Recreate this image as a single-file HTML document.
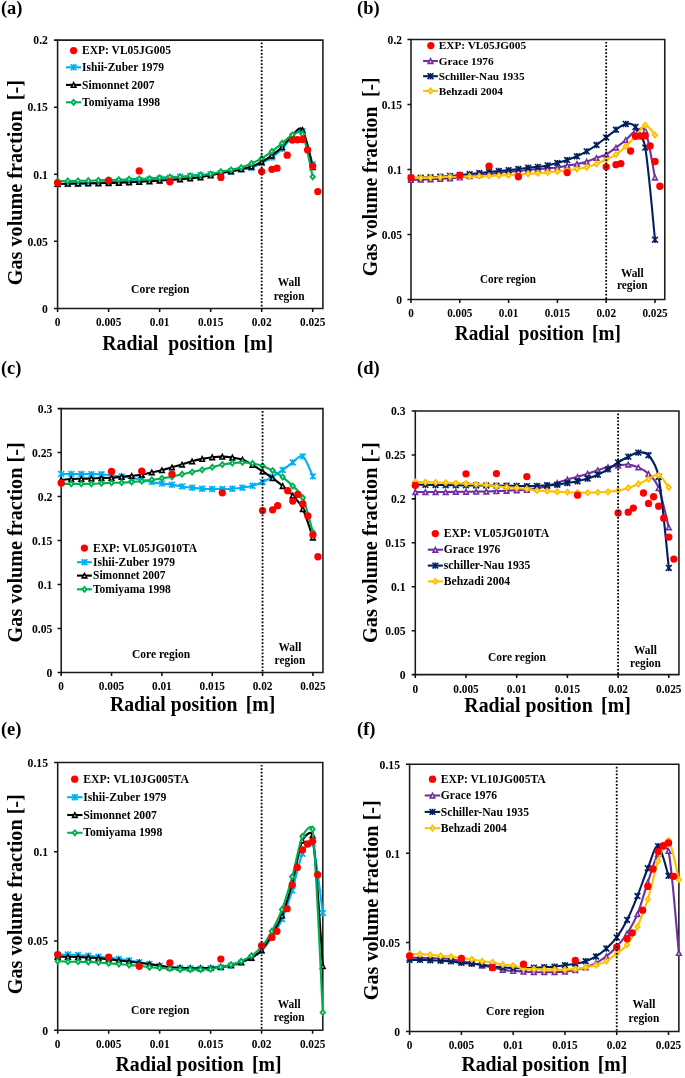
<!DOCTYPE html><html><head><meta charset="utf-8"><style>html,body{margin:0;padding:0;background:#fff;}svg{display:block;will-change:transform}text{font-family:'Liberation Serif',serif;font-weight:bold;white-space:pre}</style></head><body>
<svg width="685" height="1078" viewBox="0 0 685 1078">
<rect width="685" height="1078" fill="#fff"/>
<g><path d="M57.60,40.10H322.90V308.40H57.60Z" fill="none" stroke="#1a1a1a" stroke-width="1.55"/>
<path d="M54.00,308.40H57.60M54.00,241.32H57.60M54.00,174.25H57.60M54.00,107.18H57.60M54.00,40.10H57.60M57.60,308.40V311.90M108.62,308.40V311.90M159.64,308.40V311.90M210.66,308.40V311.90M261.68,308.40V311.90M312.70,308.40V311.90" stroke="#111" stroke-width="1.55" fill="none"/>
<path d="M57.60,184.31 C59.30,184.24 64.40,184.04 67.80,183.91 C71.21,183.77 74.61,183.64 78.01,183.51 C81.41,183.37 84.81,183.26 88.21,183.10 C91.61,182.95 95.01,182.75 98.42,182.57 C101.82,182.39 105.22,182.23 108.62,182.03 C112.02,181.83 115.42,181.58 118.82,181.36 C122.23,181.14 125.63,180.91 129.03,180.69 C132.43,180.47 135.83,180.24 139.23,180.02 C142.63,179.79 146.03,179.59 149.44,179.35 C152.84,179.10 156.24,178.81 159.64,178.54 C163.04,178.27 166.44,178.03 169.84,177.74 C173.25,177.45 176.65,177.09 180.05,176.80 C183.45,176.51 186.85,176.26 190.25,175.99 C193.65,175.73 197.05,175.48 200.46,175.19 C203.86,174.90 207.26,174.59 210.66,174.25 C214.06,173.91 217.46,173.62 220.86,173.18 C224.27,172.73 227.67,172.17 231.07,171.57 C234.47,170.96 237.87,170.16 241.27,169.55 C244.67,168.95 248.07,169.04 251.48,167.94 C254.88,166.85 258.28,164.73 261.68,162.98 C265.08,161.24 268.48,159.85 271.88,157.48 C275.29,155.11 278.69,152.23 282.09,148.76 C285.49,145.30 288.89,139.59 292.29,136.69 C295.69,133.78 299.09,126.74 302.50,131.32 C305.90,135.91 311.00,158.71 312.70,164.19" fill="none" stroke="#00B0F0" stroke-width="2.1" stroke-linejoin="round"/>
<path d="M54.70,181.41L60.50,187.21M54.70,187.21L60.50,181.41M57.60,181.11L57.60,187.51" stroke="#00B0F0" stroke-width="1.6" fill="none"/>
<path d="M64.90,181.01L70.70,186.81M64.90,186.81L70.70,181.01M67.80,180.71L67.80,187.11" stroke="#00B0F0" stroke-width="1.6" fill="none"/>
<path d="M75.11,180.61L80.91,186.41M75.11,186.41L80.91,180.61M78.01,180.31L78.01,186.71" stroke="#00B0F0" stroke-width="1.6" fill="none"/>
<path d="M85.31,180.20L91.11,186.00M85.31,186.00L91.11,180.20M88.21,179.90L88.21,186.30" stroke="#00B0F0" stroke-width="1.6" fill="none"/>
<path d="M95.52,179.67L101.32,185.47M95.52,185.47L101.32,179.67M98.42,179.37L98.42,185.77" stroke="#00B0F0" stroke-width="1.6" fill="none"/>
<path d="M105.72,179.13L111.52,184.93M105.72,184.93L111.52,179.13M108.62,178.83L108.62,185.23" stroke="#00B0F0" stroke-width="1.6" fill="none"/>
<path d="M115.92,178.46L121.72,184.26M115.92,184.26L121.72,178.46M118.82,178.16L118.82,184.56" stroke="#00B0F0" stroke-width="1.6" fill="none"/>
<path d="M126.13,177.79L131.93,183.59M126.13,183.59L131.93,177.79M129.03,177.49L129.03,183.89" stroke="#00B0F0" stroke-width="1.6" fill="none"/>
<path d="M136.33,177.12L142.13,182.92M136.33,182.92L142.13,177.12M139.23,176.82L139.23,183.22" stroke="#00B0F0" stroke-width="1.6" fill="none"/>
<path d="M146.54,176.45L152.34,182.25M146.54,182.25L152.34,176.45M149.44,176.15L149.44,182.55" stroke="#00B0F0" stroke-width="1.6" fill="none"/>
<path d="M156.74,175.64L162.54,181.44M156.74,181.44L162.54,175.64M159.64,175.34L159.64,181.74" stroke="#00B0F0" stroke-width="1.6" fill="none"/>
<path d="M166.94,174.84L172.74,180.64M166.94,180.64L172.74,174.84M169.84,174.54L169.84,180.94" stroke="#00B0F0" stroke-width="1.6" fill="none"/>
<path d="M177.15,173.90L182.95,179.70M177.15,179.70L182.95,173.90M180.05,173.60L180.05,180.00" stroke="#00B0F0" stroke-width="1.6" fill="none"/>
<path d="M187.35,173.09L193.15,178.89M187.35,178.89L193.15,173.09M190.25,172.79L190.25,179.19" stroke="#00B0F0" stroke-width="1.6" fill="none"/>
<path d="M197.56,172.29L203.36,178.09M197.56,178.09L203.36,172.29M200.46,171.99L200.46,178.39" stroke="#00B0F0" stroke-width="1.6" fill="none"/>
<path d="M207.76,171.35L213.56,177.15M207.76,177.15L213.56,171.35M210.66,171.05L210.66,177.45" stroke="#00B0F0" stroke-width="1.6" fill="none"/>
<path d="M217.96,170.28L223.76,176.08M217.96,176.08L223.76,170.28M220.86,169.98L220.86,176.38" stroke="#00B0F0" stroke-width="1.6" fill="none"/>
<path d="M228.17,168.67L233.97,174.47M228.17,174.47L233.97,168.67M231.07,168.37L231.07,174.77" stroke="#00B0F0" stroke-width="1.6" fill="none"/>
<path d="M238.37,166.65L244.17,172.45M238.37,172.45L244.17,166.65M241.27,166.35L241.27,172.75" stroke="#00B0F0" stroke-width="1.6" fill="none"/>
<path d="M248.58,165.04L254.38,170.84M248.58,170.84L254.38,165.04M251.48,164.74L251.48,171.14" stroke="#00B0F0" stroke-width="1.6" fill="none"/>
<path d="M258.78,160.08L264.58,165.88M258.78,165.88L264.58,160.08M261.68,159.78L261.68,166.18" stroke="#00B0F0" stroke-width="1.6" fill="none"/>
<path d="M268.98,154.58L274.78,160.38M268.98,160.38L274.78,154.58M271.88,154.28L271.88,160.68" stroke="#00B0F0" stroke-width="1.6" fill="none"/>
<path d="M279.19,145.86L284.99,151.66M279.19,151.66L284.99,145.86M282.09,145.56L282.09,151.96" stroke="#00B0F0" stroke-width="1.6" fill="none"/>
<path d="M289.39,133.79L295.19,139.59M289.39,139.59L295.19,133.79M292.29,133.49L292.29,139.89" stroke="#00B0F0" stroke-width="1.6" fill="none"/>
<path d="M299.60,128.42L305.40,134.22M299.60,134.22L305.40,128.42M302.50,128.12L302.50,134.52" stroke="#00B0F0" stroke-width="1.6" fill="none"/>
<path d="M309.80,161.29L315.60,167.09M309.80,167.09L315.60,161.29M312.70,160.99L312.70,167.39" stroke="#00B0F0" stroke-width="1.6" fill="none"/>
<path d="M57.60,183.91 C59.30,183.86 64.40,183.71 67.80,183.64 C71.21,183.57 74.61,183.55 78.01,183.51 C81.41,183.46 84.81,183.42 88.21,183.37 C91.61,183.33 95.01,183.31 98.42,183.24 C101.82,183.17 105.22,183.06 108.62,182.97 C112.02,182.88 115.42,182.81 118.82,182.70 C122.23,182.59 125.63,182.46 129.03,182.30 C132.43,182.14 135.83,181.94 139.23,181.76 C142.63,181.58 146.03,181.43 149.44,181.23 C152.84,181.02 156.24,180.78 159.64,180.56 C163.04,180.33 166.44,180.11 169.84,179.88 C173.25,179.66 176.65,179.46 180.05,179.21 C183.45,178.97 186.85,178.74 190.25,178.41 C193.65,178.07 197.05,177.72 200.46,177.20 C203.86,176.69 207.26,176.04 210.66,175.32 C214.06,174.61 217.46,173.58 220.86,172.91 C224.27,172.24 227.67,171.92 231.07,171.30 C234.47,170.67 237.87,169.93 241.27,169.15 C244.67,168.37 248.07,167.79 251.48,166.60 C254.88,165.42 258.28,163.90 261.68,162.04 C265.08,160.19 268.48,157.97 271.88,155.47 C275.29,152.96 278.69,150.37 282.09,147.02 C285.49,143.66 288.89,138.21 292.29,135.35 C295.69,132.48 299.37,124.97 302.50,129.85 C305.90,135.15 311.00,160.92 312.70,167.14" fill="none" stroke="#000000" stroke-width="2.1" stroke-linejoin="round"/>
<path d="M57.60,180.01L61.20,187.11L54.00,187.11Z" fill="#000000"/><path d="M57.60,183.51L58.57,185.43L56.63,185.43Z" fill="#fff"/>
<path d="M67.80,179.74L71.40,186.84L64.20,186.84Z" fill="#000000"/><path d="M67.80,183.24L68.78,185.16L66.83,185.16Z" fill="#fff"/>
<path d="M78.01,179.61L81.61,186.71L74.41,186.71Z" fill="#000000"/><path d="M78.01,183.11L78.98,185.03L77.04,185.03Z" fill="#fff"/>
<path d="M88.21,179.47L91.81,186.57L84.61,186.57Z" fill="#000000"/><path d="M88.21,182.98L89.18,184.89L87.24,184.89Z" fill="#fff"/>
<path d="M98.42,179.34L102.02,186.44L94.82,186.44Z" fill="#000000"/><path d="M98.42,182.84L99.39,184.76L97.44,184.76Z" fill="#fff"/>
<path d="M108.62,179.07L112.22,186.17L105.02,186.17Z" fill="#000000"/><path d="M108.62,182.57L109.59,184.49L107.65,184.49Z" fill="#fff"/>
<path d="M118.82,178.80L122.42,185.90L115.22,185.90Z" fill="#000000"/><path d="M118.82,182.31L119.80,184.22L117.85,184.22Z" fill="#fff"/>
<path d="M129.03,178.40L132.63,185.50L125.43,185.50Z" fill="#000000"/><path d="M129.03,181.90L130.00,183.82L128.06,183.82Z" fill="#fff"/>
<path d="M139.23,177.86L142.83,184.96L135.63,184.96Z" fill="#000000"/><path d="M139.23,181.37L140.20,183.28L138.26,183.28Z" fill="#fff"/>
<path d="M149.44,177.33L153.04,184.43L145.84,184.43Z" fill="#000000"/><path d="M149.44,180.83L150.41,182.75L148.46,182.75Z" fill="#fff"/>
<path d="M159.64,176.66L163.24,183.76L156.04,183.76Z" fill="#000000"/><path d="M159.64,180.16L160.61,182.08L158.67,182.08Z" fill="#fff"/>
<path d="M169.84,175.98L173.44,183.08L166.24,183.08Z" fill="#000000"/><path d="M169.84,179.49L170.82,181.41L168.87,181.41Z" fill="#fff"/>
<path d="M180.05,175.31L183.65,182.41L176.45,182.41Z" fill="#000000"/><path d="M180.05,178.82L181.02,180.73L179.08,180.73Z" fill="#fff"/>
<path d="M190.25,174.51L193.85,181.61L186.65,181.61Z" fill="#000000"/><path d="M190.25,178.01L191.22,179.93L189.28,179.93Z" fill="#fff"/>
<path d="M200.46,173.30L204.06,180.40L196.86,180.40Z" fill="#000000"/><path d="M200.46,176.81L201.43,178.72L199.48,178.72Z" fill="#fff"/>
<path d="M210.66,171.42L214.26,178.52L207.06,178.52Z" fill="#000000"/><path d="M210.66,174.93L211.63,176.84L209.69,176.84Z" fill="#fff"/>
<path d="M220.86,169.01L224.46,176.11L217.26,176.11Z" fill="#000000"/><path d="M220.86,172.51L221.84,174.43L219.89,174.43Z" fill="#fff"/>
<path d="M231.07,167.40L234.67,174.50L227.47,174.50Z" fill="#000000"/><path d="M231.07,170.90L232.04,172.82L230.10,172.82Z" fill="#fff"/>
<path d="M241.27,165.25L244.87,172.35L237.67,172.35Z" fill="#000000"/><path d="M241.27,168.76L242.24,170.67L240.30,170.67Z" fill="#fff"/>
<path d="M251.48,162.70L255.08,169.80L247.88,169.80Z" fill="#000000"/><path d="M251.48,166.21L252.45,168.12L250.50,168.12Z" fill="#fff"/>
<path d="M261.68,158.14L265.28,165.24L258.08,165.24Z" fill="#000000"/><path d="M261.68,161.65L262.65,163.56L260.71,163.56Z" fill="#fff"/>
<path d="M271.88,151.57L275.48,158.67L268.28,158.67Z" fill="#000000"/><path d="M271.88,155.07L272.86,156.99L270.91,156.99Z" fill="#fff"/>
<path d="M282.09,143.12L285.69,150.22L278.49,150.22Z" fill="#000000"/><path d="M282.09,146.62L283.06,148.54L281.12,148.54Z" fill="#fff"/>
<path d="M292.29,131.45L295.89,138.55L288.69,138.55Z" fill="#000000"/><path d="M292.29,134.95L293.26,136.87L291.32,136.87Z" fill="#fff"/>
<path d="M302.50,125.95L306.10,133.05L298.90,133.05Z" fill="#000000"/><path d="M302.50,129.45L303.47,131.37L301.52,131.37Z" fill="#fff"/>
<path d="M312.70,163.24L316.30,170.34L309.10,170.34Z" fill="#000000"/><path d="M312.70,166.74L313.67,168.66L311.73,168.66Z" fill="#fff"/>
<path d="M57.60,181.23 C59.30,181.18 64.40,181.02 67.80,180.96 C71.21,180.89 74.61,180.87 78.01,180.82 C81.41,180.78 84.81,180.78 88.21,180.69 C91.61,180.60 95.01,180.40 98.42,180.29 C101.82,180.17 105.22,180.11 108.62,180.02 C112.02,179.93 115.42,179.88 118.82,179.75 C122.23,179.62 125.63,179.37 129.03,179.21 C132.43,179.06 135.83,178.92 139.23,178.81 C142.63,178.70 146.03,178.72 149.44,178.54 C152.84,178.36 156.24,177.98 159.64,177.74 C163.04,177.49 166.44,177.22 169.84,177.07 C173.25,176.91 176.65,177.00 180.05,176.80 C183.45,176.60 186.85,176.17 190.25,175.86 C193.65,175.55 197.05,175.21 200.46,174.92 C203.86,174.63 207.26,174.65 210.66,174.12 C214.06,173.58 217.46,172.42 220.86,171.70 C224.27,170.99 227.67,170.52 231.07,169.82 C234.47,169.13 237.87,168.59 241.27,167.54 C244.67,166.49 248.07,165.04 251.48,163.52 C254.88,162.00 258.28,160.43 261.68,158.42 C265.08,156.41 268.48,153.97 271.88,151.44 C275.29,148.92 278.69,146.01 282.09,143.26 C285.49,140.51 288.89,136.49 292.29,134.94 C295.69,133.40 300.25,129.40 302.50,134.00 C305.90,140.98 311.00,169.67 312.70,176.80" fill="none" stroke="#00B050" stroke-width="2.1" stroke-linejoin="round"/>
<path d="M57.60,177.33L61.00,181.23L57.60,185.13L54.20,181.23Z" fill="#00B050"/><path d="M57.60,180.23L58.45,181.23L57.60,182.23L56.75,181.23Z" fill="#fff"/>
<path d="M67.80,177.06L71.20,180.96L67.80,184.86L64.40,180.96Z" fill="#00B050"/><path d="M67.80,179.96L68.65,180.96L67.80,181.96L66.95,180.96Z" fill="#fff"/>
<path d="M78.01,176.92L81.41,180.82L78.01,184.72L74.61,180.82Z" fill="#00B050"/><path d="M78.01,179.82L78.86,180.82L78.01,181.82L77.16,180.82Z" fill="#fff"/>
<path d="M88.21,176.79L91.61,180.69L88.21,184.59L84.81,180.69Z" fill="#00B050"/><path d="M88.21,179.69L89.06,180.69L88.21,181.69L87.36,180.69Z" fill="#fff"/>
<path d="M98.42,176.39L101.82,180.29L98.42,184.19L95.02,180.29Z" fill="#00B050"/><path d="M98.42,179.29L99.27,180.29L98.42,181.29L97.57,180.29Z" fill="#fff"/>
<path d="M108.62,176.12L112.02,180.02L108.62,183.92L105.22,180.02Z" fill="#00B050"/><path d="M108.62,179.02L109.47,180.02L108.62,181.02L107.77,180.02Z" fill="#fff"/>
<path d="M118.82,175.85L122.22,179.75L118.82,183.65L115.42,179.75Z" fill="#00B050"/><path d="M118.82,178.75L119.67,179.75L118.82,180.75L117.97,179.75Z" fill="#fff"/>
<path d="M129.03,175.31L132.43,179.21L129.03,183.11L125.63,179.21Z" fill="#00B050"/><path d="M129.03,178.21L129.88,179.21L129.03,180.21L128.18,179.21Z" fill="#fff"/>
<path d="M139.23,174.91L142.63,178.81L139.23,182.71L135.83,178.81Z" fill="#00B050"/><path d="M139.23,177.81L140.08,178.81L139.23,179.81L138.38,178.81Z" fill="#fff"/>
<path d="M149.44,174.64L152.84,178.54L149.44,182.44L146.04,178.54Z" fill="#00B050"/><path d="M149.44,177.54L150.29,178.54L149.44,179.54L148.59,178.54Z" fill="#fff"/>
<path d="M159.64,173.84L163.04,177.74L159.64,181.64L156.24,177.74Z" fill="#00B050"/><path d="M159.64,176.74L160.49,177.74L159.64,178.74L158.79,177.74Z" fill="#fff"/>
<path d="M169.84,173.17L173.24,177.07L169.84,180.97L166.44,177.07Z" fill="#00B050"/><path d="M169.84,176.07L170.69,177.07L169.84,178.07L168.99,177.07Z" fill="#fff"/>
<path d="M180.05,172.90L183.45,176.80L180.05,180.70L176.65,176.80Z" fill="#00B050"/><path d="M180.05,175.80L180.90,176.80L180.05,177.80L179.20,176.80Z" fill="#fff"/>
<path d="M190.25,171.96L193.65,175.86L190.25,179.76L186.85,175.86Z" fill="#00B050"/><path d="M190.25,174.86L191.10,175.86L190.25,176.86L189.40,175.86Z" fill="#fff"/>
<path d="M200.46,171.02L203.86,174.92L200.46,178.82L197.06,174.92Z" fill="#00B050"/><path d="M200.46,173.92L201.31,174.92L200.46,175.92L199.61,174.92Z" fill="#fff"/>
<path d="M210.66,170.22L214.06,174.12L210.66,178.02L207.26,174.12Z" fill="#00B050"/><path d="M210.66,173.12L211.51,174.12L210.66,175.12L209.81,174.12Z" fill="#fff"/>
<path d="M220.86,167.80L224.26,171.70L220.86,175.60L217.46,171.70Z" fill="#00B050"/><path d="M220.86,170.70L221.71,171.70L220.86,172.70L220.01,171.70Z" fill="#fff"/>
<path d="M231.07,165.92L234.47,169.82L231.07,173.72L227.67,169.82Z" fill="#00B050"/><path d="M231.07,168.82L231.92,169.82L231.07,170.82L230.22,169.82Z" fill="#fff"/>
<path d="M241.27,163.64L244.67,167.54L241.27,171.44L237.87,167.54Z" fill="#00B050"/><path d="M241.27,166.54L242.12,167.54L241.27,168.54L240.42,167.54Z" fill="#fff"/>
<path d="M251.48,159.62L254.88,163.52L251.48,167.42L248.08,163.52Z" fill="#00B050"/><path d="M251.48,162.52L252.33,163.52L251.48,164.52L250.63,163.52Z" fill="#fff"/>
<path d="M261.68,154.52L265.08,158.42L261.68,162.32L258.28,158.42Z" fill="#00B050"/><path d="M261.68,157.42L262.53,158.42L261.68,159.42L260.83,158.42Z" fill="#fff"/>
<path d="M271.88,147.54L275.28,151.44L271.88,155.34L268.48,151.44Z" fill="#00B050"/><path d="M271.88,150.44L272.73,151.44L271.88,152.44L271.03,151.44Z" fill="#fff"/>
<path d="M282.09,139.36L285.49,143.26L282.09,147.16L278.69,143.26Z" fill="#00B050"/><path d="M282.09,142.26L282.94,143.26L282.09,144.26L281.24,143.26Z" fill="#fff"/>
<path d="M292.29,131.04L295.69,134.94L292.29,138.84L288.89,134.94Z" fill="#00B050"/><path d="M292.29,133.94L293.14,134.94L292.29,135.94L291.44,134.94Z" fill="#fff"/>
<path d="M302.50,130.10L305.90,134.00L302.50,137.91L299.10,134.00Z" fill="#00B050"/><path d="M302.50,133.00L303.35,134.00L302.50,135.00L301.65,134.00Z" fill="#fff"/>
<path d="M312.70,172.90L316.10,176.80L312.70,180.70L309.30,176.80Z" fill="#00B050"/><path d="M312.70,175.80L313.55,176.80L312.70,177.80L311.85,176.80Z" fill="#fff"/>
<circle cx="57.60" cy="182.84" r="3.65" fill="#FF0000"/>
<circle cx="108.62" cy="180.29" r="3.65" fill="#FF0000"/>
<circle cx="139.23" cy="170.90" r="3.65" fill="#FF0000"/>
<circle cx="169.84" cy="181.76" r="3.65" fill="#FF0000"/>
<circle cx="220.86" cy="177.47" r="3.65" fill="#FF0000"/>
<circle cx="261.68" cy="171.57" r="3.65" fill="#FF0000"/>
<circle cx="271.88" cy="169.29" r="3.65" fill="#FF0000"/>
<circle cx="276.99" cy="168.21" r="3.65" fill="#FF0000"/>
<circle cx="287.19" cy="155.20" r="3.65" fill="#FF0000"/>
<circle cx="292.29" cy="140.04" r="3.65" fill="#FF0000"/>
<circle cx="297.39" cy="139.77" r="3.65" fill="#FF0000"/>
<circle cx="302.50" cy="139.51" r="3.65" fill="#FF0000"/>
<circle cx="307.60" cy="149.97" r="3.65" fill="#FF0000"/>
<circle cx="312.70" cy="166.07" r="3.65" fill="#FF0000"/>
<circle cx="317.80" cy="191.56" r="3.65" fill="#FF0000"/>
<line x1="261.68" y1="42.60" x2="261.68" y2="308.40" stroke="#000" stroke-width="1.8" stroke-dasharray="1.7 1.75"/>
<text transform="translate(47.90,312.70) scale(1,1.120)" font-size="11.700000000000001" text-anchor="end">0</text>
<text transform="translate(47.90,245.62) scale(1,1.120)" font-size="11.700000000000001" text-anchor="end">0.05</text>
<text transform="translate(47.90,178.55) scale(1,1.120)" font-size="11.700000000000001" text-anchor="end">0.1</text>
<text transform="translate(47.90,111.48) scale(1,1.120)" font-size="11.700000000000001" text-anchor="end">0.15</text>
<text transform="translate(47.90,44.40) scale(1,1.120)" font-size="11.700000000000001" text-anchor="end">0.2</text>
<text transform="translate(57.60,326.40) scale(1,1.120)" font-size="11.3" text-anchor="middle">0</text>
<text transform="translate(108.62,326.40) scale(1,1.120)" font-size="11.3" text-anchor="middle">0.005</text>
<text transform="translate(159.64,326.40) scale(1,1.120)" font-size="11.3" text-anchor="middle">0.01</text>
<text transform="translate(210.66,326.40) scale(1,1.120)" font-size="11.3" text-anchor="middle">0.015</text>
<text transform="translate(261.68,326.40) scale(1,1.120)" font-size="11.3" text-anchor="middle">0.02</text>
<text transform="translate(312.70,326.40) scale(1,1.120)" font-size="11.3" text-anchor="middle">0.025</text>
<text transform="translate(0.90,14.10) scale(1,1.07)" font-size="18.5">(a)</text>
<text transform="translate(22.00,285.20) rotate(-90)" font-size="20" textLength="205.1" lengthAdjust="spacingAndGlyphs">Gas volume fraction  [-]</text>
<text x="102.30" y="349.90" font-size="20" textLength="170.8" lengthAdjust="spacingAndGlyphs">Radial  position  [m]</text>
<circle cx="73.60" cy="50.60" r="3.65" fill="#FF0000"/>
<text x="82.10" y="54.20" font-size="11.5">EXP: VL05JG005</text>
<line x1="66.00" y1="67.30" x2="81.20" y2="67.30" stroke="#00B0F0" stroke-width="2.1"/>
<path d="M70.70,64.40L76.50,70.20M70.70,70.20L76.50,64.40M73.60,64.10L73.60,70.50" stroke="#00B0F0" stroke-width="1.6" fill="none"/>
<text x="82.10" y="70.90" font-size="11.5">Ishii-Zuber 1979</text>
<line x1="66.00" y1="84.90" x2="81.20" y2="84.90" stroke="#000000" stroke-width="2.1"/>
<path d="M73.60,81.00L77.20,88.10L70.00,88.10Z" fill="#000000"/><path d="M73.60,84.50L74.57,86.42L72.63,86.42Z" fill="#fff"/>
<text x="82.10" y="88.50" font-size="11.5">Simonnet 2007</text>
<line x1="66.00" y1="102.30" x2="81.20" y2="102.30" stroke="#00B050" stroke-width="2.1"/>
<path d="M73.60,98.40L77.00,102.30L73.60,106.20L70.20,102.30Z" fill="#00B050"/><path d="M73.60,101.30L74.45,102.30L73.60,103.30L72.75,102.30Z" fill="#fff"/>
<text x="82.10" y="105.90" font-size="11.5">Tomiyama 1998</text>
<text transform="translate(131.10,293.40) scale(1,1.1)" font-size="11.4" textLength="58.4" lengthAdjust="spacingAndGlyphs">Core region</text>
<text transform="translate(289.10,285.70) scale(1,1.1)" font-size="11.4" text-anchor="middle">Wall</text>
<text transform="translate(289.10,299.90) scale(1,1.1)" font-size="11.4" text-anchor="middle">region</text></g>
<g><path d="M411.00,39.40H664.76V299.50H411.00Z" fill="none" stroke="#1a1a1a" stroke-width="1.55"/>
<path d="M407.40,299.50H411.00M407.40,234.47H411.00M407.40,169.45H411.00M407.40,104.43H411.00M407.40,39.40H411.00M411.00,299.50V303.00M459.80,299.50V303.00M508.60,299.50V303.00M557.40,299.50V303.00M606.20,299.50V303.00M655.00,299.50V303.00" stroke="#111" stroke-width="1.55" fill="none"/>
<path d="M411.00,179.85 C412.63,179.81 417.51,179.70 420.76,179.59 C424.01,179.49 427.27,179.33 430.52,179.20 C433.77,179.07 437.03,178.97 440.28,178.81 C443.53,178.66 446.79,178.55 450.04,178.29 C453.29,178.03 456.55,177.64 459.80,177.25 C463.05,176.86 466.31,176.34 469.56,175.95 C472.81,175.56 476.07,175.26 479.32,174.91 C482.57,174.57 485.83,174.22 489.08,173.87 C492.33,173.52 495.59,173.18 498.84,172.83 C502.09,172.48 505.35,172.09 508.60,171.79 C511.85,171.49 515.11,171.31 518.36,171.01 C521.61,170.71 524.87,170.27 528.12,169.97 C531.37,169.67 534.63,169.45 537.88,169.19 C541.13,168.93 544.39,168.69 547.64,168.41 C550.89,168.13 554.15,167.98 557.40,167.50 C560.65,167.02 563.91,166.13 567.16,165.55 C570.41,164.96 573.67,164.64 576.92,163.99 C580.17,163.34 583.43,162.67 586.68,161.65 C589.93,160.63 593.19,159.09 596.44,157.88 C599.69,156.66 602.95,156.08 606.20,154.36 C609.45,152.65 612.71,149.99 615.96,147.60 C619.21,145.22 622.47,142.85 625.72,140.06 C628.97,137.26 632.23,132.43 635.48,130.83 C638.73,129.22 643.36,125.93 645.24,130.44 C648.49,138.22 653.37,169.67 655.00,177.51" fill="none" stroke="#7030A0" stroke-width="2.1" stroke-linejoin="round"/>
<path d="M411.00,175.95L414.60,183.05L407.40,183.05Z" fill="#7030A0"/><path d="M411.00,179.46L411.97,181.38L410.03,181.38Z" fill="#fff"/>
<path d="M420.76,175.69L424.36,182.79L417.16,182.79Z" fill="#7030A0"/><path d="M420.76,179.20L421.73,181.11L419.79,181.11Z" fill="#fff"/>
<path d="M430.52,175.30L434.12,182.40L426.92,182.40Z" fill="#7030A0"/><path d="M430.52,178.81L431.49,180.72L429.55,180.72Z" fill="#fff"/>
<path d="M440.28,174.91L443.88,182.01L436.68,182.01Z" fill="#7030A0"/><path d="M440.28,178.42L441.25,180.33L439.31,180.33Z" fill="#fff"/>
<path d="M450.04,174.39L453.64,181.49L446.44,181.49Z" fill="#7030A0"/><path d="M450.04,177.90L451.01,179.81L449.07,179.81Z" fill="#fff"/>
<path d="M459.80,173.35L463.40,180.45L456.20,180.45Z" fill="#7030A0"/><path d="M459.80,176.86L460.77,178.77L458.83,178.77Z" fill="#fff"/>
<path d="M469.56,172.05L473.16,179.15L465.96,179.15Z" fill="#7030A0"/><path d="M469.56,175.56L470.53,177.47L468.59,177.47Z" fill="#fff"/>
<path d="M479.32,171.01L482.92,178.11L475.72,178.11Z" fill="#7030A0"/><path d="M479.32,174.52L480.29,176.43L478.35,176.43Z" fill="#fff"/>
<path d="M489.08,169.97L492.68,177.07L485.48,177.07Z" fill="#7030A0"/><path d="M489.08,173.48L490.05,175.39L488.11,175.39Z" fill="#fff"/>
<path d="M498.84,168.93L502.44,176.03L495.24,176.03Z" fill="#7030A0"/><path d="M498.84,172.44L499.81,174.35L497.87,174.35Z" fill="#fff"/>
<path d="M508.60,167.89L512.20,174.99L505.00,174.99Z" fill="#7030A0"/><path d="M508.60,171.39L509.57,173.31L507.63,173.31Z" fill="#fff"/>
<path d="M518.36,167.11L521.96,174.21L514.76,174.21Z" fill="#7030A0"/><path d="M518.36,170.61L519.33,172.53L517.39,172.53Z" fill="#fff"/>
<path d="M528.12,166.07L531.72,173.17L524.52,173.17Z" fill="#7030A0"/><path d="M528.12,169.57L529.09,171.49L527.15,171.49Z" fill="#fff"/>
<path d="M537.88,165.29L541.48,172.39L534.28,172.39Z" fill="#7030A0"/><path d="M537.88,168.79L538.85,170.71L536.91,170.71Z" fill="#fff"/>
<path d="M547.64,164.51L551.24,171.61L544.04,171.61Z" fill="#7030A0"/><path d="M547.64,168.01L548.61,169.93L546.67,169.93Z" fill="#fff"/>
<path d="M557.40,163.60L561.00,170.70L553.80,170.70Z" fill="#7030A0"/><path d="M557.40,167.10L558.37,169.02L556.43,169.02Z" fill="#fff"/>
<path d="M567.16,161.65L570.76,168.75L563.56,168.75Z" fill="#7030A0"/><path d="M567.16,165.15L568.13,167.07L566.19,167.07Z" fill="#fff"/>
<path d="M576.92,160.09L580.52,167.19L573.32,167.19Z" fill="#7030A0"/><path d="M576.92,163.59L577.89,165.51L575.95,165.51Z" fill="#fff"/>
<path d="M586.68,157.75L590.28,164.85L583.08,164.85Z" fill="#7030A0"/><path d="M586.68,161.25L587.65,163.17L585.71,163.17Z" fill="#fff"/>
<path d="M596.44,153.98L600.04,161.08L592.84,161.08Z" fill="#7030A0"/><path d="M596.44,157.48L597.41,159.40L595.47,159.40Z" fill="#fff"/>
<path d="M606.20,150.46L609.80,157.56L602.60,157.56Z" fill="#7030A0"/><path d="M606.20,153.97L607.17,155.89L605.23,155.89Z" fill="#fff"/>
<path d="M615.96,143.70L619.56,150.80L612.36,150.80Z" fill="#7030A0"/><path d="M615.96,147.21L616.93,149.12L614.99,149.12Z" fill="#fff"/>
<path d="M625.72,136.16L629.32,143.26L622.12,143.26Z" fill="#7030A0"/><path d="M625.72,139.66L626.69,141.58L624.75,141.58Z" fill="#fff"/>
<path d="M635.48,126.93L639.08,134.03L631.88,134.03Z" fill="#7030A0"/><path d="M635.48,130.43L636.45,132.35L634.51,132.35Z" fill="#fff"/>
<path d="M645.24,126.53L648.84,133.63L641.64,133.63Z" fill="#7030A0"/><path d="M645.24,130.04L646.21,131.96L644.27,131.96Z" fill="#fff"/>
<path d="M655.00,173.61L658.60,180.71L651.40,180.71Z" fill="#7030A0"/><path d="M655.00,177.12L655.97,179.03L654.03,179.03Z" fill="#fff"/>
<path d="M411.00,177.90 C412.63,177.86 417.51,177.75 420.76,177.64 C424.01,177.53 427.27,177.40 430.52,177.25 C433.77,177.10 437.03,176.95 440.28,176.73 C443.53,176.52 446.79,176.23 450.04,175.95 C453.29,175.67 456.55,175.35 459.80,175.04 C463.05,174.74 466.31,174.46 469.56,174.13 C472.81,173.81 476.07,173.44 479.32,173.09 C482.57,172.74 485.83,172.40 489.08,172.05 C492.33,171.70 495.59,171.34 498.84,171.01 C502.09,170.69 505.35,170.43 508.60,170.10 C511.85,169.78 515.11,169.45 518.36,169.06 C521.61,168.67 524.87,168.13 528.12,167.76 C531.37,167.39 534.63,167.24 537.88,166.85 C541.13,166.46 544.39,166.05 547.64,165.42 C550.89,164.79 554.15,163.97 557.40,163.08 C560.65,162.19 563.91,161.21 567.16,160.09 C570.41,158.96 573.67,157.77 576.92,156.31 C580.17,154.86 583.43,153.26 586.68,151.37 C589.93,149.49 593.19,147.32 596.44,145.00 C599.69,142.68 602.95,139.99 606.20,137.46 C609.45,134.92 612.71,132.04 615.96,129.78 C619.21,127.53 622.47,124.41 625.72,123.93 C628.97,123.46 632.23,122.99 635.48,126.92 C638.73,130.87 643.29,136.34 645.24,147.60 C648.49,166.39 653.37,224.33 655.00,239.68" fill="none" stroke="#002060" stroke-width="2.1" stroke-linejoin="round"/>
<path d="M408.10,175.00L413.90,180.80M408.10,180.80L413.90,175.00M411.00,174.70L411.00,181.10" stroke="#002060" stroke-width="1.6" fill="none"/>
<path d="M417.86,174.74L423.66,180.54M417.86,180.54L423.66,174.74M420.76,174.44L420.76,180.84" stroke="#002060" stroke-width="1.6" fill="none"/>
<path d="M427.62,174.35L433.42,180.15M427.62,180.15L433.42,174.35M430.52,174.05L430.52,180.45" stroke="#002060" stroke-width="1.6" fill="none"/>
<path d="M437.38,173.83L443.18,179.63M437.38,179.63L443.18,173.83M440.28,173.53L440.28,179.93" stroke="#002060" stroke-width="1.6" fill="none"/>
<path d="M447.14,173.05L452.94,178.85M447.14,178.85L452.94,173.05M450.04,172.75L450.04,179.15" stroke="#002060" stroke-width="1.6" fill="none"/>
<path d="M456.90,172.14L462.70,177.94M456.90,177.94L462.70,172.14M459.80,171.84L459.80,178.24" stroke="#002060" stroke-width="1.6" fill="none"/>
<path d="M466.66,171.23L472.46,177.03M466.66,177.03L472.46,171.23M469.56,170.93L469.56,177.33" stroke="#002060" stroke-width="1.6" fill="none"/>
<path d="M476.42,170.19L482.22,175.99M476.42,175.99L482.22,170.19M479.32,169.89L479.32,176.29" stroke="#002060" stroke-width="1.6" fill="none"/>
<path d="M486.18,169.15L491.98,174.95M486.18,174.95L491.98,169.15M489.08,168.85L489.08,175.25" stroke="#002060" stroke-width="1.6" fill="none"/>
<path d="M495.94,168.11L501.74,173.91M495.94,173.91L501.74,168.11M498.84,167.81L498.84,174.21" stroke="#002060" stroke-width="1.6" fill="none"/>
<path d="M505.70,167.20L511.50,173.00M505.70,173.00L511.50,167.20M508.60,166.90L508.60,173.30" stroke="#002060" stroke-width="1.6" fill="none"/>
<path d="M515.46,166.16L521.26,171.96M515.46,171.96L521.26,166.16M518.36,165.86L518.36,172.26" stroke="#002060" stroke-width="1.6" fill="none"/>
<path d="M525.22,164.86L531.02,170.66M525.22,170.66L531.02,164.86M528.12,164.56L528.12,170.96" stroke="#002060" stroke-width="1.6" fill="none"/>
<path d="M534.98,163.95L540.78,169.75M534.98,169.75L540.78,163.95M537.88,163.65L537.88,170.05" stroke="#002060" stroke-width="1.6" fill="none"/>
<path d="M544.74,162.52L550.54,168.32M544.74,168.32L550.54,162.52M547.64,162.22L547.64,168.62" stroke="#002060" stroke-width="1.6" fill="none"/>
<path d="M554.50,160.18L560.30,165.98M554.50,165.98L560.30,160.18M557.40,159.88L557.40,166.28" stroke="#002060" stroke-width="1.6" fill="none"/>
<path d="M564.26,157.19L570.06,162.99M564.26,162.99L570.06,157.19M567.16,156.89L567.16,163.29" stroke="#002060" stroke-width="1.6" fill="none"/>
<path d="M574.02,153.41L579.82,159.21M574.02,159.21L579.82,153.41M576.92,153.11L576.92,159.51" stroke="#002060" stroke-width="1.6" fill="none"/>
<path d="M583.78,148.47L589.58,154.27M583.78,154.27L589.58,148.47M586.68,148.17L586.68,154.57" stroke="#002060" stroke-width="1.6" fill="none"/>
<path d="M593.54,142.10L599.34,147.90M593.54,147.90L599.34,142.10M596.44,141.80L596.44,148.20" stroke="#002060" stroke-width="1.6" fill="none"/>
<path d="M603.30,134.56L609.10,140.36M603.30,140.36L609.10,134.56M606.20,134.26L606.20,140.66" stroke="#002060" stroke-width="1.6" fill="none"/>
<path d="M613.06,126.88L618.86,132.68M613.06,132.68L618.86,126.88M615.96,126.58L615.96,132.98" stroke="#002060" stroke-width="1.6" fill="none"/>
<path d="M622.82,121.03L628.62,126.83M622.82,126.83L628.62,121.03M625.72,120.73L625.72,127.13" stroke="#002060" stroke-width="1.6" fill="none"/>
<path d="M632.58,124.02L638.38,129.82M632.58,129.82L638.38,124.02M635.48,123.72L635.48,130.12" stroke="#002060" stroke-width="1.6" fill="none"/>
<path d="M642.34,144.70L648.14,150.50M642.34,150.50L648.14,144.70M645.24,144.40L645.24,150.80" stroke="#002060" stroke-width="1.6" fill="none"/>
<path d="M652.10,236.78L657.90,242.58M652.10,242.58L657.90,236.78M655.00,236.48L655.00,242.88" stroke="#002060" stroke-width="1.6" fill="none"/>
<path d="M411.00,177.90 C412.63,177.90 417.51,177.95 420.76,177.90 C424.01,177.86 427.27,177.75 430.52,177.64 C433.77,177.53 437.03,177.38 440.28,177.25 C443.53,177.12 446.79,176.97 450.04,176.86 C453.29,176.75 456.55,176.67 459.80,176.60 C463.05,176.54 466.31,176.54 469.56,176.47 C472.81,176.41 476.07,176.30 479.32,176.21 C482.57,176.13 485.83,176.06 489.08,175.95 C492.33,175.84 495.59,175.69 498.84,175.56 C502.09,175.43 505.35,175.32 508.60,175.17 C511.85,175.02 515.11,174.89 518.36,174.65 C521.61,174.41 524.87,173.96 528.12,173.74 C531.37,173.52 534.63,173.57 537.88,173.35 C541.13,173.13 544.39,172.74 547.64,172.44 C550.89,172.14 554.15,171.88 557.40,171.53 C560.65,171.18 563.91,170.77 567.16,170.36 C570.41,169.95 573.67,169.58 576.92,169.06 C580.17,168.54 583.43,168.08 586.68,167.24 C589.93,166.39 593.19,165.27 596.44,163.99 C599.69,162.71 602.95,161.13 606.20,159.57 C609.45,158.01 612.71,156.81 615.96,154.62 C619.21,152.44 622.47,149.44 625.72,146.43 C628.97,143.42 632.23,140.08 635.48,136.55 C638.73,133.01 641.99,125.47 645.24,125.23 C648.49,124.99 653.37,133.47 655.00,135.12" fill="none" stroke="#FFC000" stroke-width="2.1" stroke-linejoin="round"/>
<path d="M411.00,174.00L414.40,177.90L411.00,181.80L407.60,177.90Z" fill="#FFC000"/><path d="M411.00,176.90L411.85,177.90L411.00,178.90L410.15,177.90Z" fill="#fff"/>
<path d="M420.76,174.00L424.16,177.90L420.76,181.80L417.36,177.90Z" fill="#FFC000"/><path d="M420.76,176.90L421.61,177.90L420.76,178.90L419.91,177.90Z" fill="#fff"/>
<path d="M430.52,173.74L433.92,177.64L430.52,181.54L427.12,177.64Z" fill="#FFC000"/><path d="M430.52,176.64L431.37,177.64L430.52,178.64L429.67,177.64Z" fill="#fff"/>
<path d="M440.28,173.35L443.68,177.25L440.28,181.15L436.88,177.25Z" fill="#FFC000"/><path d="M440.28,176.25L441.13,177.25L440.28,178.25L439.43,177.25Z" fill="#fff"/>
<path d="M450.04,172.96L453.44,176.86L450.04,180.76L446.64,176.86Z" fill="#FFC000"/><path d="M450.04,175.86L450.89,176.86L450.04,177.86L449.19,176.86Z" fill="#fff"/>
<path d="M459.80,172.70L463.20,176.60L459.80,180.50L456.40,176.60Z" fill="#FFC000"/><path d="M459.80,175.60L460.65,176.60L459.80,177.60L458.95,176.60Z" fill="#fff"/>
<path d="M469.56,172.57L472.96,176.47L469.56,180.37L466.16,176.47Z" fill="#FFC000"/><path d="M469.56,175.47L470.41,176.47L469.56,177.47L468.71,176.47Z" fill="#fff"/>
<path d="M479.32,172.31L482.72,176.21L479.32,180.11L475.92,176.21Z" fill="#FFC000"/><path d="M479.32,175.21L480.17,176.21L479.32,177.21L478.47,176.21Z" fill="#fff"/>
<path d="M489.08,172.05L492.48,175.95L489.08,179.85L485.68,175.95Z" fill="#FFC000"/><path d="M489.08,174.95L489.93,175.95L489.08,176.95L488.23,175.95Z" fill="#fff"/>
<path d="M498.84,171.66L502.24,175.56L498.84,179.46L495.44,175.56Z" fill="#FFC000"/><path d="M498.84,174.56L499.69,175.56L498.84,176.56L497.99,175.56Z" fill="#fff"/>
<path d="M508.60,171.27L512.00,175.17L508.60,179.07L505.20,175.17Z" fill="#FFC000"/><path d="M508.60,174.17L509.45,175.17L508.60,176.17L507.75,175.17Z" fill="#fff"/>
<path d="M518.36,170.75L521.76,174.65L518.36,178.55L514.96,174.65Z" fill="#FFC000"/><path d="M518.36,173.65L519.21,174.65L518.36,175.65L517.51,174.65Z" fill="#fff"/>
<path d="M528.12,169.84L531.52,173.74L528.12,177.64L524.72,173.74Z" fill="#FFC000"/><path d="M528.12,172.74L528.97,173.74L528.12,174.74L527.27,173.74Z" fill="#fff"/>
<path d="M537.88,169.45L541.28,173.35L537.88,177.25L534.48,173.35Z" fill="#FFC000"/><path d="M537.88,172.35L538.73,173.35L537.88,174.35L537.03,173.35Z" fill="#fff"/>
<path d="M547.64,168.54L551.04,172.44L547.64,176.34L544.24,172.44Z" fill="#FFC000"/><path d="M547.64,171.44L548.49,172.44L547.64,173.44L546.79,172.44Z" fill="#fff"/>
<path d="M557.40,167.63L560.80,171.53L557.40,175.43L554.00,171.53Z" fill="#FFC000"/><path d="M557.40,170.53L558.25,171.53L557.40,172.53L556.55,171.53Z" fill="#fff"/>
<path d="M567.16,166.46L570.56,170.36L567.16,174.26L563.76,170.36Z" fill="#FFC000"/><path d="M567.16,169.36L568.01,170.36L567.16,171.36L566.31,170.36Z" fill="#fff"/>
<path d="M576.92,165.16L580.32,169.06L576.92,172.96L573.52,169.06Z" fill="#FFC000"/><path d="M576.92,168.06L577.77,169.06L576.92,170.06L576.07,169.06Z" fill="#fff"/>
<path d="M586.68,163.34L590.08,167.24L586.68,171.14L583.28,167.24Z" fill="#FFC000"/><path d="M586.68,166.24L587.53,167.24L586.68,168.24L585.83,167.24Z" fill="#fff"/>
<path d="M596.44,160.09L599.84,163.99L596.44,167.89L593.04,163.99Z" fill="#FFC000"/><path d="M596.44,162.99L597.29,163.99L596.44,164.99L595.59,163.99Z" fill="#fff"/>
<path d="M606.20,155.67L609.60,159.57L606.20,163.47L602.80,159.57Z" fill="#FFC000"/><path d="M606.20,158.57L607.05,159.57L606.20,160.57L605.35,159.57Z" fill="#fff"/>
<path d="M615.96,150.72L619.36,154.62L615.96,158.52L612.56,154.62Z" fill="#FFC000"/><path d="M615.96,153.62L616.81,154.62L615.96,155.62L615.11,154.62Z" fill="#fff"/>
<path d="M625.72,142.53L629.12,146.43L625.72,150.33L622.32,146.43Z" fill="#FFC000"/><path d="M625.72,145.43L626.57,146.43L625.72,147.43L624.87,146.43Z" fill="#fff"/>
<path d="M635.48,132.65L638.88,136.55L635.48,140.45L632.08,136.55Z" fill="#FFC000"/><path d="M635.48,135.55L636.33,136.55L635.48,137.55L634.63,136.55Z" fill="#fff"/>
<path d="M645.24,121.33L648.64,125.23L645.24,129.13L641.84,125.23Z" fill="#FFC000"/><path d="M645.24,124.23L646.09,125.23L645.24,126.23L644.39,125.23Z" fill="#fff"/>
<path d="M655.00,131.22L658.40,135.12L655.00,139.02L651.60,135.12Z" fill="#FFC000"/><path d="M655.00,134.12L655.85,135.12L655.00,136.12L654.15,135.12Z" fill="#fff"/>
<circle cx="411.00" cy="177.77" r="3.65" fill="#FF0000"/>
<circle cx="459.80" cy="175.30" r="3.65" fill="#FF0000"/>
<circle cx="489.08" cy="166.20" r="3.65" fill="#FF0000"/>
<circle cx="518.36" cy="176.73" r="3.65" fill="#FF0000"/>
<circle cx="567.16" cy="172.57" r="3.65" fill="#FF0000"/>
<circle cx="606.20" cy="166.85" r="3.65" fill="#FF0000"/>
<circle cx="615.96" cy="164.64" r="3.65" fill="#FF0000"/>
<circle cx="620.84" cy="163.60" r="3.65" fill="#FF0000"/>
<circle cx="630.60" cy="150.98" r="3.65" fill="#FF0000"/>
<circle cx="635.48" cy="136.29" r="3.65" fill="#FF0000"/>
<circle cx="640.36" cy="136.03" r="3.65" fill="#FF0000"/>
<circle cx="645.24" cy="135.77" r="3.65" fill="#FF0000"/>
<circle cx="650.12" cy="145.91" r="3.65" fill="#FF0000"/>
<circle cx="655.00" cy="161.52" r="3.65" fill="#FF0000"/>
<circle cx="659.88" cy="186.23" r="3.65" fill="#FF0000"/>
<line x1="606.20" y1="41.90" x2="606.20" y2="299.50" stroke="#000" stroke-width="1.8" stroke-dasharray="1.7 1.75"/>
<text transform="translate(402.10,303.80) scale(1,1.120)" font-size="11.6" text-anchor="end">0</text>
<text transform="translate(402.10,238.78) scale(1,1.120)" font-size="11.6" text-anchor="end">0.05</text>
<text transform="translate(402.10,173.75) scale(1,1.120)" font-size="11.6" text-anchor="end">0.1</text>
<text transform="translate(402.10,108.73) scale(1,1.120)" font-size="11.6" text-anchor="end">0.15</text>
<text transform="translate(402.10,43.70) scale(1,1.120)" font-size="11.6" text-anchor="end">0.2</text>
<text transform="translate(411.00,316.70) scale(1,1.120)" font-size="11.2" text-anchor="middle">0</text>
<text transform="translate(459.80,316.70) scale(1,1.120)" font-size="11.2" text-anchor="middle">0.005</text>
<text transform="translate(508.60,316.70) scale(1,1.120)" font-size="11.2" text-anchor="middle">0.01</text>
<text transform="translate(557.40,316.70) scale(1,1.120)" font-size="11.2" text-anchor="middle">0.015</text>
<text transform="translate(606.20,316.70) scale(1,1.120)" font-size="11.2" text-anchor="middle">0.02</text>
<text transform="translate(655.00,316.70) scale(1,1.120)" font-size="11.2" text-anchor="middle">0.025</text>
<text transform="translate(357.00,14.20) scale(1,1.07)" font-size="18.5">(b)</text>
<text transform="translate(377.00,276.20) rotate(-90)" font-size="20" textLength="198.8" lengthAdjust="spacingAndGlyphs">Gas volume fraction  [-]</text>
<text x="454.80" y="339.70" font-size="20" textLength="166.0" lengthAdjust="spacingAndGlyphs">Radial  position  [m]</text>
<circle cx="430.80" cy="45.60" r="3.65" fill="#FF0000"/>
<text x="438.70" y="49.20" font-size="11.3">EXP: VL05JG005</text>
<line x1="423.10" y1="61.00" x2="437.90" y2="61.00" stroke="#7030A0" stroke-width="2.1"/>
<path d="M430.50,57.10L434.10,64.20L426.90,64.20Z" fill="#7030A0"/><path d="M430.50,60.60L431.47,62.52L429.53,62.52Z" fill="#fff"/>
<text x="438.70" y="64.60" font-size="11.3">Grace 1976</text>
<line x1="423.10" y1="76.20" x2="437.90" y2="76.20" stroke="#002060" stroke-width="2.1"/>
<path d="M427.60,73.30L433.40,79.10M427.60,79.10L433.40,73.30M430.50,73.00L430.50,79.40" stroke="#002060" stroke-width="1.6" fill="none"/>
<text x="438.70" y="79.80" font-size="11.3">Schiller-Nau 1935</text>
<line x1="423.10" y1="90.90" x2="437.90" y2="90.90" stroke="#FFC000" stroke-width="2.1"/>
<path d="M430.50,87.00L433.90,90.90L430.50,94.80L427.10,90.90Z" fill="#FFC000"/><path d="M430.50,89.90L431.35,90.90L430.50,91.90L429.65,90.90Z" fill="#fff"/>
<text x="438.70" y="94.50" font-size="11.3">Behzadi 2004</text>
<text transform="translate(479.90,283.40) scale(1,1.1)" font-size="11.4" textLength="56.1" lengthAdjust="spacingAndGlyphs">Core region</text>
<text transform="translate(632.30,276.60) scale(1,1.1)" font-size="11.4" text-anchor="middle">Wall</text>
<text transform="translate(632.30,289.20) scale(1,1.1)" font-size="11.4" text-anchor="middle">region</text></g>
<g><path d="M61.20,408.60H322.97V672.40H61.20Z" fill="none" stroke="#1a1a1a" stroke-width="1.55"/>
<path d="M57.60,672.40H61.20M57.60,628.43H61.20M57.60,584.47H61.20M57.60,540.50H61.20M57.60,496.53H61.20M57.60,452.57H61.20M57.60,408.60H61.20M61.20,672.40V675.90M111.54,672.40V675.90M161.88,672.40V675.90M212.22,672.40V675.90M262.56,672.40V675.90M312.90,672.40V675.90" stroke="#111" stroke-width="1.55" fill="none"/>
<path d="M61.20,473.93 C62.88,473.93 67.91,473.92 71.27,473.93 C74.62,473.95 77.98,473.99 81.34,474.02 C84.69,474.05 88.05,474.07 91.40,474.11 C94.76,474.15 98.12,474.07 101.47,474.29 C104.83,474.51 108.18,475.05 111.54,475.43 C114.90,475.81 118.25,476.13 121.61,476.57 C124.96,477.01 128.32,477.53 131.68,478.07 C135.03,478.61 138.39,479.15 141.74,479.83 C145.10,480.50 148.46,481.48 151.81,482.11 C155.17,482.74 158.52,483.17 161.88,483.61 C165.24,484.05 168.59,484.28 171.95,484.75 C175.30,485.22 178.66,485.92 182.02,486.42 C185.37,486.92 188.73,487.36 192.08,487.74 C195.44,488.12 198.80,488.50 202.15,488.71 C205.51,488.91 208.86,488.93 212.22,488.97 C215.58,489.02 218.93,489.02 222.29,488.97 C225.64,488.93 229.00,488.91 232.36,488.71 C235.71,488.50 239.07,488.22 242.42,487.74 C245.78,487.26 249.14,486.76 252.49,485.81 C255.85,484.85 259.20,483.53 262.56,482.02 C265.92,480.51 269.27,478.76 272.63,476.75 C275.98,474.74 279.34,472.37 282.70,469.98 C286.05,467.59 289.41,464.69 292.76,462.42 C296.12,460.14 299.48,454.02 302.83,456.35 C306.19,458.68 311.22,473.06 312.90,476.40" fill="none" stroke="#00B0F0" stroke-width="2.1" stroke-linejoin="round"/>
<path d="M58.30,471.03L64.10,476.83M58.30,476.83L64.10,471.03M61.20,470.73L61.20,477.13" stroke="#00B0F0" stroke-width="1.6" fill="none"/>
<path d="M68.37,471.03L74.17,476.83M68.37,476.83L74.17,471.03M71.27,470.73L71.27,477.13" stroke="#00B0F0" stroke-width="1.6" fill="none"/>
<path d="M78.44,471.12L84.24,476.92M78.44,476.92L84.24,471.12M81.34,470.82L81.34,477.22" stroke="#00B0F0" stroke-width="1.6" fill="none"/>
<path d="M88.50,471.21L94.30,477.01M88.50,477.01L94.30,471.21M91.40,470.91L91.40,477.31" stroke="#00B0F0" stroke-width="1.6" fill="none"/>
<path d="M98.57,471.39L104.37,477.19M98.57,477.19L104.37,471.39M101.47,471.09L101.47,477.49" stroke="#00B0F0" stroke-width="1.6" fill="none"/>
<path d="M108.64,472.53L114.44,478.33M108.64,478.33L114.44,472.53M111.54,472.23L111.54,478.63" stroke="#00B0F0" stroke-width="1.6" fill="none"/>
<path d="M118.71,473.67L124.51,479.47M118.71,479.47L124.51,473.67M121.61,473.37L121.61,479.77" stroke="#00B0F0" stroke-width="1.6" fill="none"/>
<path d="M128.78,475.17L134.58,480.97M128.78,480.97L134.58,475.17M131.68,474.87L131.68,481.27" stroke="#00B0F0" stroke-width="1.6" fill="none"/>
<path d="M138.84,476.93L144.64,482.73M138.84,482.73L144.64,476.93M141.74,476.63L141.74,483.03" stroke="#00B0F0" stroke-width="1.6" fill="none"/>
<path d="M148.91,479.21L154.71,485.01M148.91,485.01L154.71,479.21M151.81,478.91L151.81,485.31" stroke="#00B0F0" stroke-width="1.6" fill="none"/>
<path d="M158.98,480.71L164.78,486.51M158.98,486.51L164.78,480.71M161.88,480.41L161.88,486.81" stroke="#00B0F0" stroke-width="1.6" fill="none"/>
<path d="M169.05,481.85L174.85,487.65M169.05,487.65L174.85,481.85M171.95,481.55L171.95,487.95" stroke="#00B0F0" stroke-width="1.6" fill="none"/>
<path d="M179.12,483.52L184.92,489.32M179.12,489.32L184.92,483.52M182.02,483.22L182.02,489.62" stroke="#00B0F0" stroke-width="1.6" fill="none"/>
<path d="M189.18,484.84L194.98,490.64M189.18,490.64L194.98,484.84M192.08,484.54L192.08,490.94" stroke="#00B0F0" stroke-width="1.6" fill="none"/>
<path d="M199.25,485.81L205.05,491.61M199.25,491.61L205.05,485.81M202.15,485.51L202.15,491.91" stroke="#00B0F0" stroke-width="1.6" fill="none"/>
<path d="M209.32,486.07L215.12,491.87M209.32,491.87L215.12,486.07M212.22,485.77L212.22,492.17" stroke="#00B0F0" stroke-width="1.6" fill="none"/>
<path d="M219.39,486.07L225.19,491.87M219.39,491.87L225.19,486.07M222.29,485.77L222.29,492.17" stroke="#00B0F0" stroke-width="1.6" fill="none"/>
<path d="M229.46,485.81L235.26,491.61M229.46,491.61L235.26,485.81M232.36,485.51L232.36,491.91" stroke="#00B0F0" stroke-width="1.6" fill="none"/>
<path d="M239.52,484.84L245.32,490.64M239.52,490.64L245.32,484.84M242.42,484.54L242.42,490.94" stroke="#00B0F0" stroke-width="1.6" fill="none"/>
<path d="M249.59,482.91L255.39,488.71M249.59,488.71L255.39,482.91M252.49,482.61L252.49,489.01" stroke="#00B0F0" stroke-width="1.6" fill="none"/>
<path d="M259.66,479.12L265.46,484.92M259.66,484.92L265.46,479.12M262.56,478.82L262.56,485.22" stroke="#00B0F0" stroke-width="1.6" fill="none"/>
<path d="M269.73,473.85L275.53,479.65M269.73,479.65L275.53,473.85M272.63,473.55L272.63,479.95" stroke="#00B0F0" stroke-width="1.6" fill="none"/>
<path d="M279.80,467.08L285.60,472.88M279.80,472.88L285.60,467.08M282.70,466.78L282.70,473.18" stroke="#00B0F0" stroke-width="1.6" fill="none"/>
<path d="M289.86,459.52L295.66,465.32M289.86,465.32L295.66,459.52M292.76,459.22L292.76,465.62" stroke="#00B0F0" stroke-width="1.6" fill="none"/>
<path d="M299.93,453.45L305.73,459.25M299.93,459.25L305.73,453.45M302.83,453.15L302.83,459.55" stroke="#00B0F0" stroke-width="1.6" fill="none"/>
<path d="M310.00,473.50L315.80,479.30M310.00,479.30L315.80,473.50M312.90,473.20L312.90,479.60" stroke="#00B0F0" stroke-width="1.6" fill="none"/>
<path d="M61.20,479.91 C62.88,479.75 67.91,479.15 71.27,478.95 C74.62,478.74 77.98,478.76 81.34,478.68 C84.69,478.61 88.05,478.61 91.40,478.51 C94.76,478.40 98.12,478.18 101.47,478.07 C104.83,477.95 108.18,478.02 111.54,477.80 C114.90,477.58 118.25,477.09 121.61,476.75 C124.96,476.41 128.32,476.10 131.68,475.78 C135.03,475.46 138.39,475.39 141.74,474.81 C145.10,474.24 148.46,473.13 151.81,472.35 C155.17,471.57 158.52,470.99 161.88,470.15 C165.24,469.32 168.59,468.28 171.95,467.34 C175.30,466.40 178.66,465.52 182.02,464.53 C185.37,463.53 188.73,462.30 192.08,461.36 C195.44,460.42 198.80,459.59 202.15,458.90 C205.51,458.21 208.86,457.61 212.22,457.23 C215.58,456.85 218.93,456.57 222.29,456.61 C225.64,456.66 229.00,456.99 232.36,457.49 C235.71,457.99 239.07,458.37 242.42,459.60 C245.78,460.83 249.14,462.93 252.49,464.88 C255.85,466.83 259.20,469.10 262.56,471.30 C265.92,473.49 269.27,475.62 272.63,478.07 C275.98,480.51 279.34,483.08 282.70,485.98 C286.05,488.88 289.41,491.65 292.76,495.48 C296.12,499.30 299.48,501.93 302.83,508.93 C306.19,515.94 311.22,532.75 312.90,537.51" fill="none" stroke="#000000" stroke-width="2.1" stroke-linejoin="round"/>
<path d="M61.20,476.01L64.80,483.11L57.60,483.11Z" fill="#000000"/><path d="M61.20,479.52L62.17,481.43L60.23,481.43Z" fill="#fff"/>
<path d="M71.27,475.05L74.87,482.15L67.67,482.15Z" fill="#000000"/><path d="M71.27,478.55L72.24,480.47L70.30,480.47Z" fill="#fff"/>
<path d="M81.34,474.78L84.94,481.88L77.74,481.88Z" fill="#000000"/><path d="M81.34,478.29L82.31,480.20L80.36,480.20Z" fill="#fff"/>
<path d="M91.40,474.61L95.00,481.71L87.80,481.71Z" fill="#000000"/><path d="M91.40,478.11L92.38,480.03L90.43,480.03Z" fill="#fff"/>
<path d="M101.47,474.17L105.07,481.27L97.87,481.27Z" fill="#000000"/><path d="M101.47,477.67L102.44,479.59L100.50,479.59Z" fill="#fff"/>
<path d="M111.54,473.90L115.14,481.00L107.94,481.00Z" fill="#000000"/><path d="M111.54,477.41L112.51,479.32L110.57,479.32Z" fill="#fff"/>
<path d="M121.61,472.85L125.21,479.95L118.01,479.95Z" fill="#000000"/><path d="M121.61,476.35L122.58,478.27L120.64,478.27Z" fill="#fff"/>
<path d="M131.68,471.88L135.28,478.98L128.08,478.98Z" fill="#000000"/><path d="M131.68,475.39L132.65,477.30L130.70,477.30Z" fill="#fff"/>
<path d="M141.74,470.91L145.34,478.01L138.14,478.01Z" fill="#000000"/><path d="M141.74,474.42L142.72,476.33L140.77,476.33Z" fill="#fff"/>
<path d="M151.81,468.45L155.41,475.55L148.21,475.55Z" fill="#000000"/><path d="M151.81,471.96L152.78,473.87L150.84,473.87Z" fill="#fff"/>
<path d="M161.88,466.25L165.48,473.35L158.28,473.35Z" fill="#000000"/><path d="M161.88,469.76L162.85,471.67L160.91,471.67Z" fill="#fff"/>
<path d="M171.95,463.44L175.55,470.54L168.35,470.54Z" fill="#000000"/><path d="M171.95,466.94L172.92,468.86L170.98,468.86Z" fill="#fff"/>
<path d="M182.02,460.63L185.62,467.73L178.42,467.73Z" fill="#000000"/><path d="M182.02,464.13L182.99,466.05L181.04,466.05Z" fill="#fff"/>
<path d="M192.08,457.46L195.68,464.56L188.48,464.56Z" fill="#000000"/><path d="M192.08,460.96L193.06,462.88L191.11,462.88Z" fill="#fff"/>
<path d="M202.15,455.00L205.75,462.10L198.55,462.10Z" fill="#000000"/><path d="M202.15,458.50L203.12,460.42L201.18,460.42Z" fill="#fff"/>
<path d="M212.22,453.33L215.82,460.43L208.62,460.43Z" fill="#000000"/><path d="M212.22,456.83L213.19,458.75L211.25,458.75Z" fill="#fff"/>
<path d="M222.29,452.71L225.89,459.81L218.69,459.81Z" fill="#000000"/><path d="M222.29,456.22L223.26,458.13L221.32,458.13Z" fill="#fff"/>
<path d="M232.36,453.59L235.96,460.69L228.76,460.69Z" fill="#000000"/><path d="M232.36,457.09L233.33,459.01L231.38,459.01Z" fill="#fff"/>
<path d="M242.42,455.70L246.02,462.80L238.82,462.80Z" fill="#000000"/><path d="M242.42,459.21L243.40,461.12L241.45,461.12Z" fill="#fff"/>
<path d="M252.49,460.98L256.09,468.08L248.89,468.08Z" fill="#000000"/><path d="M252.49,464.48L253.46,466.40L251.52,466.40Z" fill="#fff"/>
<path d="M262.56,467.40L266.16,474.50L258.96,474.50Z" fill="#000000"/><path d="M262.56,470.90L263.53,472.82L261.59,472.82Z" fill="#fff"/>
<path d="M272.63,474.17L276.23,481.27L269.03,481.27Z" fill="#000000"/><path d="M272.63,477.67L273.60,479.59L271.66,479.59Z" fill="#fff"/>
<path d="M282.70,482.08L286.30,489.18L279.10,489.18Z" fill="#000000"/><path d="M282.70,485.59L283.67,487.50L281.72,487.50Z" fill="#fff"/>
<path d="M292.76,491.58L296.36,498.68L289.16,498.68Z" fill="#000000"/><path d="M292.76,495.08L293.74,497.00L291.79,497.00Z" fill="#fff"/>
<path d="M302.83,505.03L306.43,512.13L299.23,512.13Z" fill="#000000"/><path d="M302.83,508.54L303.80,510.45L301.86,510.45Z" fill="#fff"/>
<path d="M312.90,533.61L316.50,540.71L309.30,540.71Z" fill="#000000"/><path d="M312.90,537.11L313.87,539.03L311.93,539.03Z" fill="#fff"/>
<path d="M61.20,483.87 C62.88,483.87 67.91,483.87 71.27,483.87 C74.62,483.87 77.98,483.89 81.34,483.87 C84.69,483.86 88.05,483.87 91.40,483.78 C94.76,483.70 98.12,483.50 101.47,483.34 C104.83,483.18 108.18,482.93 111.54,482.82 C114.90,482.70 118.25,482.76 121.61,482.64 C124.96,482.52 128.32,482.38 131.68,482.11 C135.03,481.85 138.39,481.44 141.74,481.06 C145.10,480.68 148.46,480.28 151.81,479.83 C155.17,479.37 158.52,478.84 161.88,478.33 C165.24,477.82 168.59,477.44 171.95,476.75 C175.30,476.06 178.66,474.98 182.02,474.20 C185.37,473.42 188.73,472.82 192.08,472.09 C195.44,471.36 198.80,470.62 202.15,469.80 C205.51,468.98 208.86,468.04 212.22,467.16 C215.58,466.28 218.93,465.20 222.29,464.53 C225.64,463.85 229.00,463.47 232.36,463.12 C235.71,462.77 239.07,462.36 242.42,462.42 C245.78,462.47 249.14,462.88 252.49,463.47 C255.85,464.06 259.20,464.75 262.56,465.93 C265.92,467.12 269.27,468.73 272.63,470.59 C275.98,472.45 279.34,474.52 282.70,477.10 C286.05,479.68 289.41,482.63 292.76,486.07 C296.12,489.51 299.75,490.69 302.83,497.76 C306.19,505.47 311.22,526.56 312.90,532.32" fill="none" stroke="#00B050" stroke-width="2.1" stroke-linejoin="round"/>
<path d="M61.20,479.97L64.60,483.87L61.20,487.77L57.80,483.87Z" fill="#00B050"/><path d="M61.20,482.87L62.05,483.87L61.20,484.87L60.35,483.87Z" fill="#fff"/>
<path d="M71.27,479.97L74.67,483.87L71.27,487.77L67.87,483.87Z" fill="#00B050"/><path d="M71.27,482.87L72.12,483.87L71.27,484.87L70.42,483.87Z" fill="#fff"/>
<path d="M81.34,479.97L84.74,483.87L81.34,487.77L77.94,483.87Z" fill="#00B050"/><path d="M81.34,482.87L82.19,483.87L81.34,484.87L80.49,483.87Z" fill="#fff"/>
<path d="M91.40,479.88L94.80,483.78L91.40,487.68L88.00,483.78Z" fill="#00B050"/><path d="M91.40,482.78L92.25,483.78L91.40,484.78L90.55,483.78Z" fill="#fff"/>
<path d="M101.47,479.44L104.87,483.34L101.47,487.24L98.07,483.34Z" fill="#00B050"/><path d="M101.47,482.34L102.32,483.34L101.47,484.34L100.62,483.34Z" fill="#fff"/>
<path d="M111.54,478.92L114.94,482.82L111.54,486.72L108.14,482.82Z" fill="#00B050"/><path d="M111.54,481.82L112.39,482.82L111.54,483.82L110.69,482.82Z" fill="#fff"/>
<path d="M121.61,478.74L125.01,482.64L121.61,486.54L118.21,482.64Z" fill="#00B050"/><path d="M121.61,481.64L122.46,482.64L121.61,483.64L120.76,482.64Z" fill="#fff"/>
<path d="M131.68,478.21L135.08,482.11L131.68,486.01L128.28,482.11Z" fill="#00B050"/><path d="M131.68,481.11L132.53,482.11L131.68,483.11L130.83,482.11Z" fill="#fff"/>
<path d="M141.74,477.16L145.14,481.06L141.74,484.96L138.34,481.06Z" fill="#00B050"/><path d="M141.74,480.06L142.59,481.06L141.74,482.06L140.89,481.06Z" fill="#fff"/>
<path d="M151.81,475.93L155.21,479.83L151.81,483.73L148.41,479.83Z" fill="#00B050"/><path d="M151.81,478.83L152.66,479.83L151.81,480.83L150.96,479.83Z" fill="#fff"/>
<path d="M161.88,474.43L165.28,478.33L161.88,482.23L158.48,478.33Z" fill="#00B050"/><path d="M161.88,477.33L162.73,478.33L161.88,479.33L161.03,478.33Z" fill="#fff"/>
<path d="M171.95,472.85L175.35,476.75L171.95,480.65L168.55,476.75Z" fill="#00B050"/><path d="M171.95,475.75L172.80,476.75L171.95,477.75L171.10,476.75Z" fill="#fff"/>
<path d="M182.02,470.30L185.42,474.20L182.02,478.10L178.62,474.20Z" fill="#00B050"/><path d="M182.02,473.20L182.87,474.20L182.02,475.20L181.17,474.20Z" fill="#fff"/>
<path d="M192.08,468.19L195.48,472.09L192.08,475.99L188.68,472.09Z" fill="#00B050"/><path d="M192.08,471.09L192.93,472.09L192.08,473.09L191.23,472.09Z" fill="#fff"/>
<path d="M202.15,465.90L205.55,469.80L202.15,473.70L198.75,469.80Z" fill="#00B050"/><path d="M202.15,468.80L203.00,469.80L202.15,470.80L201.30,469.80Z" fill="#fff"/>
<path d="M212.22,463.26L215.62,467.16L212.22,471.06L208.82,467.16Z" fill="#00B050"/><path d="M212.22,466.16L213.07,467.16L212.22,468.16L211.37,467.16Z" fill="#fff"/>
<path d="M222.29,460.63L225.69,464.53L222.29,468.43L218.89,464.53Z" fill="#00B050"/><path d="M222.29,463.53L223.14,464.53L222.29,465.53L221.44,464.53Z" fill="#fff"/>
<path d="M232.36,459.22L235.76,463.12L232.36,467.02L228.96,463.12Z" fill="#00B050"/><path d="M232.36,462.12L233.21,463.12L232.36,464.12L231.51,463.12Z" fill="#fff"/>
<path d="M242.42,458.52L245.82,462.42L242.42,466.32L239.02,462.42Z" fill="#00B050"/><path d="M242.42,461.42L243.27,462.42L242.42,463.42L241.57,462.42Z" fill="#fff"/>
<path d="M252.49,459.57L255.89,463.47L252.49,467.37L249.09,463.47Z" fill="#00B050"/><path d="M252.49,462.47L253.34,463.47L252.49,464.47L251.64,463.47Z" fill="#fff"/>
<path d="M262.56,462.03L265.96,465.93L262.56,469.83L259.16,465.93Z" fill="#00B050"/><path d="M262.56,464.93L263.41,465.93L262.56,466.93L261.71,465.93Z" fill="#fff"/>
<path d="M272.63,466.69L276.03,470.59L272.63,474.49L269.23,470.59Z" fill="#00B050"/><path d="M272.63,469.59L273.48,470.59L272.63,471.59L271.78,470.59Z" fill="#fff"/>
<path d="M282.70,473.20L286.10,477.10L282.70,481.00L279.30,477.10Z" fill="#00B050"/><path d="M282.70,476.10L283.55,477.10L282.70,478.10L281.85,477.10Z" fill="#fff"/>
<path d="M292.76,482.17L296.16,486.07L292.76,489.97L289.36,486.07Z" fill="#00B050"/><path d="M292.76,485.07L293.61,486.07L292.76,487.07L291.91,486.07Z" fill="#fff"/>
<path d="M302.83,493.86L306.23,497.76L302.83,501.66L299.43,497.76Z" fill="#00B050"/><path d="M302.83,496.76L303.68,497.76L302.83,498.76L301.98,497.76Z" fill="#fff"/>
<path d="M312.90,528.42L316.30,532.32L312.90,536.22L309.50,532.32Z" fill="#00B050"/><path d="M312.90,531.32L313.75,532.32L312.90,533.32L312.05,532.32Z" fill="#fff"/>
<circle cx="61.20" cy="482.99" r="3.65" fill="#FF0000"/>
<circle cx="111.54" cy="471.47" r="3.65" fill="#FF0000"/>
<circle cx="141.74" cy="471.21" r="3.65" fill="#FF0000"/>
<circle cx="171.95" cy="474.20" r="3.65" fill="#FF0000"/>
<circle cx="222.29" cy="492.84" r="3.65" fill="#FF0000"/>
<circle cx="262.56" cy="510.60" r="3.65" fill="#FF0000"/>
<circle cx="272.63" cy="509.81" r="3.65" fill="#FF0000"/>
<circle cx="277.66" cy="505.77" r="3.65" fill="#FF0000"/>
<circle cx="287.73" cy="490.64" r="3.65" fill="#FF0000"/>
<circle cx="292.76" cy="501.11" r="3.65" fill="#FF0000"/>
<circle cx="297.80" cy="494.42" r="3.65" fill="#FF0000"/>
<circle cx="302.83" cy="503.92" r="3.65" fill="#FF0000"/>
<circle cx="307.87" cy="515.88" r="3.65" fill="#FF0000"/>
<circle cx="312.90" cy="534.78" r="3.65" fill="#FF0000"/>
<circle cx="317.93" cy="556.77" r="3.65" fill="#FF0000"/>
<line x1="262.56" y1="411.10" x2="262.56" y2="672.40" stroke="#000" stroke-width="1.8" stroke-dasharray="1.7 1.75"/>
<text transform="translate(52.40,676.70) scale(1,1.120)" font-size="11.700000000000001" text-anchor="end">0</text>
<text transform="translate(52.40,632.73) scale(1,1.120)" font-size="11.700000000000001" text-anchor="end">0.05</text>
<text transform="translate(52.40,588.77) scale(1,1.120)" font-size="11.700000000000001" text-anchor="end">0.1</text>
<text transform="translate(52.40,544.80) scale(1,1.120)" font-size="11.700000000000001" text-anchor="end">0.15</text>
<text transform="translate(52.40,500.83) scale(1,1.120)" font-size="11.700000000000001" text-anchor="end">0.2</text>
<text transform="translate(52.40,456.87) scale(1,1.120)" font-size="11.700000000000001" text-anchor="end">0.25</text>
<text transform="translate(52.40,412.90) scale(1,1.120)" font-size="11.700000000000001" text-anchor="end">0.3</text>
<text transform="translate(61.20,689.70) scale(1,1.120)" font-size="11.3" text-anchor="middle">0</text>
<text transform="translate(111.54,689.70) scale(1,1.120)" font-size="11.3" text-anchor="middle">0.005</text>
<text transform="translate(161.88,689.70) scale(1,1.120)" font-size="11.3" text-anchor="middle">0.01</text>
<text transform="translate(212.22,689.70) scale(1,1.120)" font-size="11.3" text-anchor="middle">0.015</text>
<text transform="translate(262.56,689.70) scale(1,1.120)" font-size="11.3" text-anchor="middle">0.02</text>
<text transform="translate(312.90,689.70) scale(1,1.120)" font-size="11.3" text-anchor="middle">0.025</text>
<text transform="translate(0.90,374.30) scale(1,1.07)" font-size="18.5">(c)</text>
<text transform="translate(21.70,642.40) rotate(-90)" font-size="20" textLength="200.0" lengthAdjust="spacingAndGlyphs">Gas volume fraction [-]</text>
<text x="110.00" y="711.00" font-size="20" textLength="165.2" lengthAdjust="spacingAndGlyphs">Radial position  [m]</text>
<circle cx="84.40" cy="548.10" r="3.65" fill="#FF0000"/>
<text x="93.00" y="551.70" font-size="11.5">EXP: VL05JG010TA</text>
<line x1="77.00" y1="562.20" x2="91.90" y2="562.20" stroke="#00B0F0" stroke-width="2.1"/>
<path d="M81.55,559.30L87.35,565.10M81.55,565.10L87.35,559.30M84.45,559.00L84.45,565.40" stroke="#00B0F0" stroke-width="1.6" fill="none"/>
<text x="93.00" y="565.80" font-size="11.5">Ishii-Zuber 1979</text>
<line x1="77.00" y1="575.60" x2="91.90" y2="575.60" stroke="#000000" stroke-width="2.1"/>
<path d="M84.45,571.70L88.05,578.80L80.85,578.80Z" fill="#000000"/><path d="M84.45,575.20L85.42,577.12L83.48,577.12Z" fill="#fff"/>
<text x="93.00" y="579.20" font-size="11.5">Simonnet 2007</text>
<line x1="77.00" y1="589.30" x2="91.90" y2="589.30" stroke="#00B050" stroke-width="2.1"/>
<path d="M84.45,585.40L87.85,589.30L84.45,593.20L81.05,589.30Z" fill="#00B050"/><path d="M84.45,588.30L85.30,589.30L84.45,590.30L83.60,589.30Z" fill="#fff"/>
<text x="93.00" y="592.90" font-size="11.5">Tomiyama 1998</text>
<text transform="translate(132.00,658.30) scale(1,1.1)" font-size="11.4" textLength="58.1" lengthAdjust="spacingAndGlyphs">Core region</text>
<text transform="translate(290.00,651.30) scale(1,1.1)" font-size="11.4" text-anchor="middle">Wall</text>
<text transform="translate(290.00,664.20) scale(1,1.1)" font-size="11.4" text-anchor="middle">region</text></g>
<g><path d="M415.30,411.00H678.94V674.60H415.30Z" fill="none" stroke="#1a1a1a" stroke-width="1.55"/>
<path d="M411.70,674.60H415.30M411.70,630.67H415.30M411.70,586.73H415.30M411.70,542.80H415.30M411.70,498.87H415.30M411.70,454.93H415.30M411.70,411.00H415.30M415.30,674.60V678.10M466.00,674.60V678.10M516.70,674.60V678.10M567.40,674.60V678.10M618.10,674.60V678.10M668.80,674.60V678.10" stroke="#111" stroke-width="1.55" fill="none"/>
<path d="M415.30,491.93 C416.99,491.93 422.06,491.93 425.44,491.93 C428.82,491.93 432.20,491.93 435.58,491.93 C438.96,491.93 442.34,491.94 445.72,491.93 C449.10,491.91 452.48,491.87 455.86,491.84 C459.24,491.81 462.62,491.78 466.00,491.75 C469.38,491.72 472.76,491.71 476.14,491.66 C479.52,491.62 482.90,491.57 486.28,491.49 C489.66,491.40 493.04,491.27 496.42,491.13 C499.80,491.00 503.18,490.84 506.56,490.70 C509.94,490.55 513.32,490.40 516.70,490.26 C520.08,490.11 523.46,490.14 526.84,489.82 C530.22,489.49 533.60,488.97 536.98,488.32 C540.36,487.68 543.74,486.84 547.12,485.95 C550.50,485.06 553.88,484.05 557.26,482.96 C560.64,481.88 564.02,480.47 567.40,479.45 C570.78,478.42 574.16,477.78 577.54,476.81 C580.92,475.85 584.30,474.76 587.68,473.65 C591.06,472.54 594.44,471.23 597.82,470.13 C601.20,469.04 604.58,467.82 607.96,467.06 C611.34,466.30 614.72,465.98 618.10,465.57 C621.48,465.16 624.86,464.29 628.24,464.60 C631.62,464.91 635.00,465.87 638.38,467.41 C641.76,468.95 645.14,470.37 648.52,473.82 C651.90,477.28 655.55,479.94 658.66,488.15 C662.04,497.07 667.11,520.80 668.80,527.34" fill="none" stroke="#7030A0" stroke-width="2.1" stroke-linejoin="round"/>
<path d="M415.30,488.03L418.90,495.13L411.70,495.13Z" fill="#7030A0"/><path d="M415.30,491.53L416.27,493.45L414.33,493.45Z" fill="#fff"/>
<path d="M425.44,488.03L429.04,495.13L421.84,495.13Z" fill="#7030A0"/><path d="M425.44,491.53L426.41,493.45L424.47,493.45Z" fill="#fff"/>
<path d="M435.58,488.03L439.18,495.13L431.98,495.13Z" fill="#7030A0"/><path d="M435.58,491.53L436.55,493.45L434.61,493.45Z" fill="#fff"/>
<path d="M445.72,488.03L449.32,495.13L442.12,495.13Z" fill="#7030A0"/><path d="M445.72,491.53L446.69,493.45L444.75,493.45Z" fill="#fff"/>
<path d="M455.86,487.94L459.46,495.04L452.26,495.04Z" fill="#7030A0"/><path d="M455.86,491.44L456.83,493.36L454.89,493.36Z" fill="#fff"/>
<path d="M466.00,487.85L469.60,494.95L462.40,494.95Z" fill="#7030A0"/><path d="M466.00,491.35L466.97,493.27L465.03,493.27Z" fill="#fff"/>
<path d="M476.14,487.76L479.74,494.86L472.54,494.86Z" fill="#7030A0"/><path d="M476.14,491.27L477.11,493.18L475.17,493.18Z" fill="#fff"/>
<path d="M486.28,487.59L489.88,494.69L482.68,494.69Z" fill="#7030A0"/><path d="M486.28,491.09L487.25,493.01L485.31,493.01Z" fill="#fff"/>
<path d="M496.42,487.23L500.02,494.33L492.82,494.33Z" fill="#7030A0"/><path d="M496.42,490.74L497.39,492.66L495.45,492.66Z" fill="#fff"/>
<path d="M506.56,486.80L510.16,493.90L502.96,493.90Z" fill="#7030A0"/><path d="M506.56,490.30L507.53,492.22L505.59,492.22Z" fill="#fff"/>
<path d="M516.70,486.36L520.30,493.46L513.10,493.46Z" fill="#7030A0"/><path d="M516.70,489.86L517.67,491.78L515.73,491.78Z" fill="#fff"/>
<path d="M526.84,485.92L530.44,493.02L523.24,493.02Z" fill="#7030A0"/><path d="M526.84,489.42L527.81,491.34L525.87,491.34Z" fill="#fff"/>
<path d="M536.98,484.42L540.58,491.52L533.38,491.52Z" fill="#7030A0"/><path d="M536.98,487.93L537.95,489.84L536.01,489.84Z" fill="#fff"/>
<path d="M547.12,482.05L550.72,489.15L543.52,489.15Z" fill="#7030A0"/><path d="M547.12,485.55L548.09,487.47L546.15,487.47Z" fill="#fff"/>
<path d="M557.26,479.06L560.86,486.16L553.66,486.16Z" fill="#7030A0"/><path d="M557.26,482.57L558.23,484.48L556.29,484.48Z" fill="#fff"/>
<path d="M567.40,475.55L571.00,482.65L563.80,482.65Z" fill="#7030A0"/><path d="M567.40,479.05L568.37,480.97L566.43,480.97Z" fill="#fff"/>
<path d="M577.54,472.91L581.14,480.01L573.94,480.01Z" fill="#7030A0"/><path d="M577.54,476.42L578.51,478.33L576.57,478.33Z" fill="#fff"/>
<path d="M587.68,469.75L591.28,476.85L584.08,476.85Z" fill="#7030A0"/><path d="M587.68,473.25L588.65,475.17L586.71,475.17Z" fill="#fff"/>
<path d="M597.82,466.23L601.42,473.33L594.22,473.33Z" fill="#7030A0"/><path d="M597.82,469.74L598.79,471.66L596.85,471.66Z" fill="#fff"/>
<path d="M607.96,463.16L611.56,470.26L604.36,470.26Z" fill="#7030A0"/><path d="M607.96,466.66L608.93,468.58L606.99,468.58Z" fill="#fff"/>
<path d="M618.10,461.67L621.70,468.77L614.50,468.77Z" fill="#7030A0"/><path d="M618.10,465.17L619.07,467.09L617.13,467.09Z" fill="#fff"/>
<path d="M628.24,460.70L631.84,467.80L624.64,467.80Z" fill="#7030A0"/><path d="M628.24,464.20L629.21,466.12L627.27,466.12Z" fill="#fff"/>
<path d="M638.38,463.51L641.98,470.61L634.78,470.61Z" fill="#7030A0"/><path d="M638.38,467.01L639.35,468.93L637.41,468.93Z" fill="#fff"/>
<path d="M648.52,469.92L652.12,477.02L644.92,477.02Z" fill="#7030A0"/><path d="M648.52,473.43L649.49,475.35L647.55,475.35Z" fill="#fff"/>
<path d="M658.66,484.25L662.26,491.35L655.06,491.35Z" fill="#7030A0"/><path d="M658.66,487.75L659.63,489.67L657.69,489.67Z" fill="#fff"/>
<path d="M668.80,523.44L672.40,530.54L665.20,530.54Z" fill="#7030A0"/><path d="M668.80,526.94L669.77,528.86L667.83,528.86Z" fill="#fff"/>
<path d="M415.30,484.46 C416.99,484.52 422.06,484.72 425.44,484.81 C428.82,484.90 432.20,484.93 435.58,484.98 C438.96,485.04 442.34,485.12 445.72,485.16 C449.10,485.20 452.48,485.22 455.86,485.25 C459.24,485.28 462.62,485.31 466.00,485.34 C469.38,485.36 472.76,485.39 476.14,485.42 C479.52,485.45 482.90,485.48 486.28,485.51 C489.66,485.54 493.04,485.57 496.42,485.60 C499.80,485.63 503.18,485.64 506.56,485.69 C509.94,485.73 513.32,485.79 516.70,485.86 C520.08,485.94 523.46,486.13 526.84,486.13 C530.22,486.13 533.60,486.01 536.98,485.86 C540.36,485.72 543.74,485.44 547.12,485.25 C550.50,485.06 553.88,485.10 557.26,484.72 C560.64,484.34 564.02,483.55 567.40,482.96 C570.78,482.38 574.16,481.94 577.54,481.21 C580.92,480.47 584.30,479.65 587.68,478.57 C591.06,477.49 594.44,476.24 597.82,474.70 C601.20,473.17 604.58,471.39 607.96,469.34 C611.34,467.29 614.72,464.51 618.10,462.40 C621.48,460.29 624.86,458.32 628.24,456.69 C631.62,455.07 635.00,452.88 638.38,452.65 C641.76,452.41 645.17,451.26 648.52,455.28 C651.90,459.34 656.54,465.20 658.66,476.99 C662.04,495.76 667.11,552.77 668.80,567.93" fill="none" stroke="#002060" stroke-width="2.1" stroke-linejoin="round"/>
<path d="M412.40,481.56L418.20,487.36M412.40,487.36L418.20,481.56M415.30,481.26L415.30,487.66" stroke="#002060" stroke-width="1.6" fill="none"/>
<path d="M422.54,481.91L428.34,487.71M422.54,487.71L428.34,481.91M425.44,481.61L425.44,488.01" stroke="#002060" stroke-width="1.6" fill="none"/>
<path d="M432.68,482.08L438.48,487.88M432.68,487.88L438.48,482.08M435.58,481.78L435.58,488.18" stroke="#002060" stroke-width="1.6" fill="none"/>
<path d="M442.82,482.26L448.62,488.06M442.82,488.06L448.62,482.26M445.72,481.96L445.72,488.36" stroke="#002060" stroke-width="1.6" fill="none"/>
<path d="M452.96,482.35L458.76,488.15M452.96,488.15L458.76,482.35M455.86,482.05L455.86,488.45" stroke="#002060" stroke-width="1.6" fill="none"/>
<path d="M463.10,482.44L468.90,488.24M463.10,488.24L468.90,482.44M466.00,482.14L466.00,488.54" stroke="#002060" stroke-width="1.6" fill="none"/>
<path d="M473.24,482.52L479.04,488.32M473.24,488.32L479.04,482.52M476.14,482.22L476.14,488.62" stroke="#002060" stroke-width="1.6" fill="none"/>
<path d="M483.38,482.61L489.18,488.41M483.38,488.41L489.18,482.61M486.28,482.31L486.28,488.71" stroke="#002060" stroke-width="1.6" fill="none"/>
<path d="M493.52,482.70L499.32,488.50M493.52,488.50L499.32,482.70M496.42,482.40L496.42,488.80" stroke="#002060" stroke-width="1.6" fill="none"/>
<path d="M503.66,482.79L509.46,488.59M503.66,488.59L509.46,482.79M506.56,482.49L506.56,488.89" stroke="#002060" stroke-width="1.6" fill="none"/>
<path d="M513.80,482.96L519.60,488.76M513.80,488.76L519.60,482.96M516.70,482.66L516.70,489.06" stroke="#002060" stroke-width="1.6" fill="none"/>
<path d="M523.94,483.23L529.74,489.03M523.94,489.03L529.74,483.23M526.84,482.93L526.84,489.33" stroke="#002060" stroke-width="1.6" fill="none"/>
<path d="M534.08,482.96L539.88,488.76M534.08,488.76L539.88,482.96M536.98,482.66L536.98,489.06" stroke="#002060" stroke-width="1.6" fill="none"/>
<path d="M544.22,482.35L550.02,488.15M544.22,488.15L550.02,482.35M547.12,482.05L547.12,488.45" stroke="#002060" stroke-width="1.6" fill="none"/>
<path d="M554.36,481.82L560.16,487.62M554.36,487.62L560.16,481.82M557.26,481.52L557.26,487.92" stroke="#002060" stroke-width="1.6" fill="none"/>
<path d="M564.50,480.06L570.30,485.86M564.50,485.86L570.30,480.06M567.40,479.76L567.40,486.16" stroke="#002060" stroke-width="1.6" fill="none"/>
<path d="M574.64,478.31L580.44,484.11M574.64,484.11L580.44,478.31M577.54,478.01L577.54,484.41" stroke="#002060" stroke-width="1.6" fill="none"/>
<path d="M584.78,475.67L590.58,481.47M584.78,481.47L590.58,475.67M587.68,475.37L587.68,481.77" stroke="#002060" stroke-width="1.6" fill="none"/>
<path d="M594.92,471.80L600.72,477.60M594.92,477.60L600.72,471.80M597.82,471.50L597.82,477.90" stroke="#002060" stroke-width="1.6" fill="none"/>
<path d="M605.06,466.44L610.86,472.24M605.06,472.24L610.86,466.44M607.96,466.14L607.96,472.54" stroke="#002060" stroke-width="1.6" fill="none"/>
<path d="M615.20,459.50L621.00,465.30M615.20,465.30L621.00,459.50M618.10,459.20L618.10,465.60" stroke="#002060" stroke-width="1.6" fill="none"/>
<path d="M625.34,453.79L631.14,459.59M625.34,459.59L631.14,453.79M628.24,453.49L628.24,459.89" stroke="#002060" stroke-width="1.6" fill="none"/>
<path d="M635.48,449.75L641.28,455.55M635.48,455.55L641.28,449.75M638.38,449.45L638.38,455.85" stroke="#002060" stroke-width="1.6" fill="none"/>
<path d="M645.62,452.38L651.42,458.18M645.62,458.18L651.42,452.38M648.52,452.08L648.52,458.48" stroke="#002060" stroke-width="1.6" fill="none"/>
<path d="M655.76,474.09L661.56,479.89M655.76,479.89L661.56,474.09M658.66,473.79L658.66,480.19" stroke="#002060" stroke-width="1.6" fill="none"/>
<path d="M665.90,565.03L671.70,570.83M665.90,570.83L671.70,565.03M668.80,564.73L668.80,571.13" stroke="#002060" stroke-width="1.6" fill="none"/>
<path d="M415.30,481.91 C416.99,481.95 422.06,482.08 425.44,482.17 C428.82,482.26 432.20,482.35 435.58,482.44 C438.96,482.52 442.34,482.60 445.72,482.70 C449.10,482.80 452.48,482.89 455.86,483.05 C459.24,483.21 462.62,483.46 466.00,483.67 C469.38,483.87 472.76,484.08 476.14,484.28 C479.52,484.49 482.90,484.56 486.28,484.90 C489.66,485.23 493.04,485.92 496.42,486.30 C499.80,486.68 503.18,486.90 506.56,487.18 C509.94,487.46 513.32,487.68 516.70,487.97 C520.08,488.26 523.46,488.51 526.84,488.94 C530.22,489.36 533.60,490.14 536.98,490.52 C540.36,490.90 543.74,491.00 547.12,491.22 C550.50,491.44 553.88,491.68 557.26,491.84 C560.64,492.00 564.02,492.07 567.40,492.19 C570.78,492.31 574.16,492.47 577.54,492.54 C580.92,492.61 584.30,492.66 587.68,492.63 C591.06,492.60 594.44,492.50 597.82,492.36 C601.20,492.23 604.58,492.13 607.96,491.84 C611.34,491.54 614.72,491.25 618.10,490.61 C621.48,489.96 624.86,489.07 628.24,487.97 C631.62,486.87 635.00,485.51 638.38,484.02 C641.76,482.52 645.14,480.49 648.52,479.01 C651.90,477.53 655.28,473.74 658.66,475.14 C662.04,476.55 667.11,485.39 668.80,487.44" fill="none" stroke="#FFC000" stroke-width="2.1" stroke-linejoin="round"/>
<path d="M415.30,478.01L418.70,481.91L415.30,485.81L411.90,481.91Z" fill="#FFC000"/><path d="M415.30,480.91L416.15,481.91L415.30,482.91L414.45,481.91Z" fill="#fff"/>
<path d="M425.44,478.27L428.84,482.17L425.44,486.07L422.04,482.17Z" fill="#FFC000"/><path d="M425.44,481.17L426.29,482.17L425.44,483.17L424.59,482.17Z" fill="#fff"/>
<path d="M435.58,478.54L438.98,482.44L435.58,486.34L432.18,482.44Z" fill="#FFC000"/><path d="M435.58,481.44L436.43,482.44L435.58,483.44L434.73,482.44Z" fill="#fff"/>
<path d="M445.72,478.80L449.12,482.70L445.72,486.60L442.32,482.70Z" fill="#FFC000"/><path d="M445.72,481.70L446.57,482.70L445.72,483.70L444.87,482.70Z" fill="#fff"/>
<path d="M455.86,479.15L459.26,483.05L455.86,486.95L452.46,483.05Z" fill="#FFC000"/><path d="M455.86,482.05L456.71,483.05L455.86,484.05L455.01,483.05Z" fill="#fff"/>
<path d="M466.00,479.77L469.40,483.67L466.00,487.57L462.60,483.67Z" fill="#FFC000"/><path d="M466.00,482.67L466.85,483.67L466.00,484.67L465.15,483.67Z" fill="#fff"/>
<path d="M476.14,480.38L479.54,484.28L476.14,488.18L472.74,484.28Z" fill="#FFC000"/><path d="M476.14,483.28L476.99,484.28L476.14,485.28L475.29,484.28Z" fill="#fff"/>
<path d="M486.28,481.00L489.68,484.90L486.28,488.80L482.88,484.90Z" fill="#FFC000"/><path d="M486.28,483.90L487.13,484.90L486.28,485.90L485.43,484.90Z" fill="#fff"/>
<path d="M496.42,482.40L499.82,486.30L496.42,490.20L493.02,486.30Z" fill="#FFC000"/><path d="M496.42,485.30L497.27,486.30L496.42,487.30L495.57,486.30Z" fill="#fff"/>
<path d="M506.56,483.28L509.96,487.18L506.56,491.08L503.16,487.18Z" fill="#FFC000"/><path d="M506.56,486.18L507.41,487.18L506.56,488.18L505.71,487.18Z" fill="#fff"/>
<path d="M516.70,484.07L520.10,487.97L516.70,491.87L513.30,487.97Z" fill="#FFC000"/><path d="M516.70,486.97L517.55,487.97L516.70,488.97L515.85,487.97Z" fill="#fff"/>
<path d="M526.84,485.04L530.24,488.94L526.84,492.84L523.44,488.94Z" fill="#FFC000"/><path d="M526.84,487.94L527.69,488.94L526.84,489.94L525.99,488.94Z" fill="#fff"/>
<path d="M536.98,486.62L540.38,490.52L536.98,494.42L533.58,490.52Z" fill="#FFC000"/><path d="M536.98,489.52L537.83,490.52L536.98,491.52L536.13,490.52Z" fill="#fff"/>
<path d="M547.12,487.32L550.52,491.22L547.12,495.12L543.72,491.22Z" fill="#FFC000"/><path d="M547.12,490.22L547.97,491.22L547.12,492.22L546.27,491.22Z" fill="#fff"/>
<path d="M557.26,487.94L560.66,491.84L557.26,495.74L553.86,491.84Z" fill="#FFC000"/><path d="M557.26,490.84L558.11,491.84L557.26,492.84L556.41,491.84Z" fill="#fff"/>
<path d="M567.40,488.29L570.80,492.19L567.40,496.09L564.00,492.19Z" fill="#FFC000"/><path d="M567.40,491.19L568.25,492.19L567.40,493.19L566.55,492.19Z" fill="#fff"/>
<path d="M577.54,488.64L580.94,492.54L577.54,496.44L574.14,492.54Z" fill="#FFC000"/><path d="M577.54,491.54L578.39,492.54L577.54,493.54L576.69,492.54Z" fill="#fff"/>
<path d="M587.68,488.73L591.08,492.63L587.68,496.53L584.28,492.63Z" fill="#FFC000"/><path d="M587.68,491.63L588.53,492.63L587.68,493.63L586.83,492.63Z" fill="#fff"/>
<path d="M597.82,488.46L601.22,492.36L597.82,496.26L594.42,492.36Z" fill="#FFC000"/><path d="M597.82,491.36L598.67,492.36L597.82,493.36L596.97,492.36Z" fill="#fff"/>
<path d="M607.96,487.94L611.36,491.84L607.96,495.74L604.56,491.84Z" fill="#FFC000"/><path d="M607.96,490.84L608.81,491.84L607.96,492.84L607.11,491.84Z" fill="#fff"/>
<path d="M618.10,486.71L621.50,490.61L618.10,494.51L614.70,490.61Z" fill="#FFC000"/><path d="M618.10,489.61L618.95,490.61L618.10,491.61L617.25,490.61Z" fill="#fff"/>
<path d="M628.24,484.07L631.64,487.97L628.24,491.87L624.84,487.97Z" fill="#FFC000"/><path d="M628.24,486.97L629.09,487.97L628.24,488.97L627.39,487.97Z" fill="#fff"/>
<path d="M638.38,480.12L641.78,484.02L638.38,487.92L634.98,484.02Z" fill="#FFC000"/><path d="M638.38,483.02L639.23,484.02L638.38,485.02L637.53,484.02Z" fill="#fff"/>
<path d="M648.52,475.11L651.92,479.01L648.52,482.91L645.12,479.01Z" fill="#FFC000"/><path d="M648.52,478.01L649.37,479.01L648.52,480.01L647.67,479.01Z" fill="#fff"/>
<path d="M658.66,471.24L662.06,475.14L658.66,479.04L655.26,475.14Z" fill="#FFC000"/><path d="M658.66,474.14L659.51,475.14L658.66,476.14L657.81,475.14Z" fill="#fff"/>
<path d="M668.80,483.54L672.20,487.44L668.80,491.34L665.40,487.44Z" fill="#FFC000"/><path d="M668.80,486.44L669.65,487.44L668.80,488.44L667.95,487.44Z" fill="#fff"/>
<circle cx="415.30" cy="485.34" r="3.65" fill="#FF0000"/>
<circle cx="466.00" cy="473.82" r="3.65" fill="#FF0000"/>
<circle cx="496.42" cy="473.56" r="3.65" fill="#FF0000"/>
<circle cx="526.84" cy="476.55" r="3.65" fill="#FF0000"/>
<circle cx="577.54" cy="495.18" r="3.65" fill="#FF0000"/>
<circle cx="618.10" cy="512.93" r="3.65" fill="#FF0000"/>
<circle cx="628.24" cy="512.13" r="3.65" fill="#FF0000"/>
<circle cx="633.31" cy="508.09" r="3.65" fill="#FF0000"/>
<circle cx="643.45" cy="492.98" r="3.65" fill="#FF0000"/>
<circle cx="648.52" cy="503.44" r="3.65" fill="#FF0000"/>
<circle cx="653.59" cy="496.76" r="3.65" fill="#FF0000"/>
<circle cx="658.66" cy="506.25" r="3.65" fill="#FF0000"/>
<circle cx="663.73" cy="518.20" r="3.65" fill="#FF0000"/>
<circle cx="668.80" cy="537.09" r="3.65" fill="#FF0000"/>
<circle cx="673.87" cy="559.06" r="3.65" fill="#FF0000"/>
<line x1="618.10" y1="413.50" x2="618.10" y2="674.60" stroke="#000" stroke-width="1.8" stroke-dasharray="1.7 1.75"/>
<text transform="translate(405.60,678.90) scale(1,1.120)" font-size="11.700000000000001" text-anchor="end">0</text>
<text transform="translate(405.60,634.97) scale(1,1.120)" font-size="11.700000000000001" text-anchor="end">0.05</text>
<text transform="translate(405.60,591.03) scale(1,1.120)" font-size="11.700000000000001" text-anchor="end">0.1</text>
<text transform="translate(405.60,547.10) scale(1,1.120)" font-size="11.700000000000001" text-anchor="end">0.15</text>
<text transform="translate(405.60,503.17) scale(1,1.120)" font-size="11.700000000000001" text-anchor="end">0.2</text>
<text transform="translate(405.60,459.23) scale(1,1.120)" font-size="11.700000000000001" text-anchor="end">0.25</text>
<text transform="translate(405.60,415.30) scale(1,1.120)" font-size="11.700000000000001" text-anchor="end">0.3</text>
<text transform="translate(415.30,692.60) scale(1,1.120)" font-size="11.3" text-anchor="middle">0</text>
<text transform="translate(466.00,692.60) scale(1,1.120)" font-size="11.3" text-anchor="middle">0.005</text>
<text transform="translate(516.70,692.60) scale(1,1.120)" font-size="11.3" text-anchor="middle">0.01</text>
<text transform="translate(567.40,692.60) scale(1,1.120)" font-size="11.3" text-anchor="middle">0.015</text>
<text transform="translate(618.10,692.60) scale(1,1.120)" font-size="11.3" text-anchor="middle">0.02</text>
<text transform="translate(668.80,692.60) scale(1,1.120)" font-size="11.3" text-anchor="middle">0.025</text>
<text transform="translate(357.00,374.30) scale(1,1.07)" font-size="18.5">(d)</text>
<text transform="translate(377.30,642.90) rotate(-90)" font-size="20" textLength="200.6" lengthAdjust="spacingAndGlyphs">Gas volume fraction [-]</text>
<text x="464.30" y="711.60" font-size="20" textLength="166.5" lengthAdjust="spacingAndGlyphs">Radial position  [m]</text>
<circle cx="435.30" cy="533.60" r="3.65" fill="#FF0000"/>
<text x="443.80" y="537.20" font-size="11.65">EXP: VL05JG010TA</text>
<line x1="427.80" y1="549.70" x2="442.90" y2="549.70" stroke="#7030A0" stroke-width="2.1"/>
<path d="M435.35,545.80L438.95,552.90L431.75,552.90Z" fill="#7030A0"/><path d="M435.35,549.30L436.32,551.22L434.38,551.22Z" fill="#fff"/>
<text x="443.80" y="553.30" font-size="11.65">Grace 1976</text>
<line x1="427.80" y1="565.60" x2="442.90" y2="565.60" stroke="#002060" stroke-width="2.1"/>
<path d="M432.45,562.70L438.25,568.50M432.45,568.50L438.25,562.70M435.35,562.40L435.35,568.80" stroke="#002060" stroke-width="1.6" fill="none"/>
<text x="443.80" y="569.20" font-size="11.65">schiller-Nau 1935</text>
<line x1="427.80" y1="581.40" x2="442.90" y2="581.40" stroke="#FFC000" stroke-width="2.1"/>
<path d="M435.35,577.50L438.75,581.40L435.35,585.30L431.95,581.40Z" fill="#FFC000"/><path d="M435.35,580.40L436.20,581.40L435.35,582.40L434.50,581.40Z" fill="#fff"/>
<text x="443.80" y="585.00" font-size="11.65">Behzadi 2004</text>
<text transform="translate(487.90,660.70) scale(1,1.1)" font-size="11.4" textLength="58.1" lengthAdjust="spacingAndGlyphs">Core region</text>
<text transform="translate(645.50,653.90) scale(1,1.1)" font-size="11.4" text-anchor="middle">Wall</text>
<text transform="translate(645.50,667.10) scale(1,1.1)" font-size="11.4" text-anchor="middle">region</text></g>
<g><path d="M57.70,762.40H322.80V1030.30H57.70Z" fill="none" stroke="#1a1a1a" stroke-width="1.55"/>
<path d="M54.10,1030.30H57.70M54.10,941.00H57.70M54.10,851.70H57.70M54.10,762.40H57.70M57.70,1030.30V1033.80M108.68,1030.30V1033.80M159.66,1030.30V1033.80M210.64,1030.30V1033.80M261.62,1030.30V1033.80M312.60,1030.30V1033.80" stroke="#111" stroke-width="1.55" fill="none"/>
<path d="M57.70,954.93 C59.40,954.87 64.50,954.57 67.90,954.57 C71.29,954.57 74.69,954.72 78.09,954.93 C81.49,955.14 84.89,955.53 88.29,955.82 C91.69,956.12 95.09,956.39 98.48,956.72 C101.88,957.04 105.28,957.43 108.68,957.79 C112.08,958.15 115.48,958.41 118.88,958.86 C122.27,959.31 125.67,959.90 129.07,960.47 C132.47,961.03 135.87,961.69 139.27,962.25 C142.67,962.82 146.07,963.27 149.46,963.86 C152.86,964.46 156.26,965.29 159.66,965.83 C163.06,966.36 166.46,966.72 169.86,967.08 C173.25,967.43 176.65,967.73 180.05,967.97 C183.45,968.21 186.85,968.39 190.25,968.50 C193.65,968.62 197.05,968.71 200.44,968.68 C203.84,968.65 207.24,968.53 210.64,968.33 C214.04,968.12 217.44,967.88 220.84,967.43 C224.23,966.99 227.63,966.42 231.03,965.65 C234.43,964.87 237.83,964.07 241.23,962.79 C244.63,961.51 248.03,959.99 251.42,957.97 C254.82,955.94 258.22,954.07 261.62,950.64 C265.02,947.22 268.42,942.70 271.82,937.43 C275.21,932.16 278.61,926.86 282.01,919.03 C285.41,911.20 288.81,901.35 292.21,890.46 C295.61,879.56 299.01,861.49 302.40,853.66 C305.27,847.06 310.26,836.67 312.60,843.48 C316.00,853.37 321.10,901.38 322.80,912.96" fill="none" stroke="#00B0F0" stroke-width="2.1" stroke-linejoin="round"/>
<path d="M54.80,952.03L60.60,957.83M54.80,957.83L60.60,952.03M57.70,951.73L57.70,958.13" stroke="#00B0F0" stroke-width="1.6" fill="none"/>
<path d="M65.00,951.67L70.80,957.47M65.00,957.47L70.80,951.67M67.90,951.37L67.90,957.77" stroke="#00B0F0" stroke-width="1.6" fill="none"/>
<path d="M75.19,952.03L80.99,957.83M75.19,957.83L80.99,952.03M78.09,951.73L78.09,958.13" stroke="#00B0F0" stroke-width="1.6" fill="none"/>
<path d="M85.39,952.92L91.19,958.72M85.39,958.72L91.19,952.92M88.29,952.62L88.29,959.02" stroke="#00B0F0" stroke-width="1.6" fill="none"/>
<path d="M95.58,953.82L101.38,959.62M95.58,959.62L101.38,953.82M98.48,953.52L98.48,959.92" stroke="#00B0F0" stroke-width="1.6" fill="none"/>
<path d="M105.78,954.89L111.58,960.69M105.78,960.69L111.58,954.89M108.68,954.59L108.68,960.99" stroke="#00B0F0" stroke-width="1.6" fill="none"/>
<path d="M115.98,955.96L121.78,961.76M115.98,961.76L121.78,955.96M118.88,955.66L118.88,962.06" stroke="#00B0F0" stroke-width="1.6" fill="none"/>
<path d="M126.17,957.57L131.97,963.37M126.17,963.37L131.97,957.57M129.07,957.27L129.07,963.67" stroke="#00B0F0" stroke-width="1.6" fill="none"/>
<path d="M136.37,959.35L142.17,965.15M136.37,965.15L142.17,959.35M139.27,959.05L139.27,965.45" stroke="#00B0F0" stroke-width="1.6" fill="none"/>
<path d="M146.56,960.96L152.36,966.76M146.56,966.76L152.36,960.96M149.46,960.66L149.46,967.06" stroke="#00B0F0" stroke-width="1.6" fill="none"/>
<path d="M156.76,962.93L162.56,968.73M156.76,968.73L162.56,962.93M159.66,962.63L159.66,969.03" stroke="#00B0F0" stroke-width="1.6" fill="none"/>
<path d="M166.96,964.18L172.76,969.98M166.96,969.98L172.76,964.18M169.86,963.88L169.86,970.28" stroke="#00B0F0" stroke-width="1.6" fill="none"/>
<path d="M177.15,965.07L182.95,970.87M177.15,970.87L182.95,965.07M180.05,964.77L180.05,971.17" stroke="#00B0F0" stroke-width="1.6" fill="none"/>
<path d="M187.35,965.60L193.15,971.40M187.35,971.40L193.15,965.60M190.25,965.30L190.25,971.70" stroke="#00B0F0" stroke-width="1.6" fill="none"/>
<path d="M197.54,965.78L203.34,971.58M197.54,971.58L203.34,965.78M200.44,965.48L200.44,971.88" stroke="#00B0F0" stroke-width="1.6" fill="none"/>
<path d="M207.74,965.43L213.54,971.23M207.74,971.23L213.54,965.43M210.64,965.13L210.64,971.53" stroke="#00B0F0" stroke-width="1.6" fill="none"/>
<path d="M217.94,964.53L223.74,970.33M217.94,970.33L223.74,964.53M220.84,964.23L220.84,970.63" stroke="#00B0F0" stroke-width="1.6" fill="none"/>
<path d="M228.13,962.75L233.93,968.55M228.13,968.55L233.93,962.75M231.03,962.45L231.03,968.85" stroke="#00B0F0" stroke-width="1.6" fill="none"/>
<path d="M238.33,959.89L244.13,965.69M238.33,965.69L244.13,959.89M241.23,959.59L241.23,965.99" stroke="#00B0F0" stroke-width="1.6" fill="none"/>
<path d="M248.52,955.07L254.32,960.87M248.52,960.87L254.32,955.07M251.42,954.77L251.42,961.17" stroke="#00B0F0" stroke-width="1.6" fill="none"/>
<path d="M258.72,947.74L264.52,953.54M258.72,953.54L264.52,947.74M261.62,947.44L261.62,953.84" stroke="#00B0F0" stroke-width="1.6" fill="none"/>
<path d="M268.92,934.53L274.72,940.33M268.92,940.33L274.72,934.53M271.82,934.23L271.82,940.63" stroke="#00B0F0" stroke-width="1.6" fill="none"/>
<path d="M279.11,916.13L284.91,921.93M279.11,921.93L284.91,916.13M282.01,915.83L282.01,922.23" stroke="#00B0F0" stroke-width="1.6" fill="none"/>
<path d="M289.31,887.56L295.11,893.36M289.31,893.36L295.11,887.56M292.21,887.26L292.21,893.66" stroke="#00B0F0" stroke-width="1.6" fill="none"/>
<path d="M299.50,850.76L305.30,856.56M299.50,856.56L305.30,850.76M302.40,850.46L302.40,856.86" stroke="#00B0F0" stroke-width="1.6" fill="none"/>
<path d="M309.70,840.58L315.50,846.38M309.70,846.38L315.50,840.58M312.60,840.28L312.60,846.68" stroke="#00B0F0" stroke-width="1.6" fill="none"/>
<path d="M319.90,910.06L325.70,915.86M319.90,915.86L325.70,910.06M322.80,909.76L322.80,916.16" stroke="#00B0F0" stroke-width="1.6" fill="none"/>
<path d="M57.70,956.72 C59.40,956.72 64.50,956.66 67.90,956.72 C71.29,956.78 74.69,956.93 78.09,957.07 C81.49,957.22 84.89,957.43 88.29,957.61 C91.69,957.79 95.09,957.85 98.48,958.15 C101.88,958.44 105.28,959.01 108.68,959.40 C112.08,959.78 115.48,960.11 118.88,960.47 C122.27,960.82 125.67,961.15 129.07,961.54 C132.47,961.93 135.87,962.37 139.27,962.79 C142.67,963.21 146.07,963.56 149.46,964.04 C152.86,964.52 156.26,965.11 159.66,965.65 C163.06,966.18 166.46,966.90 169.86,967.25 C173.25,967.61 176.65,967.64 180.05,967.79 C183.45,967.94 186.85,968.09 190.25,968.15 C193.65,968.21 197.05,968.21 200.44,968.15 C203.84,968.09 207.24,968.00 210.64,967.79 C214.04,967.58 217.44,967.34 220.84,966.90 C224.23,966.45 227.63,965.91 231.03,965.11 C234.43,964.31 237.83,963.30 241.23,962.07 C244.63,960.85 248.03,959.75 251.42,957.79 C254.82,955.82 258.22,954.19 261.62,950.29 C265.02,946.39 268.42,940.17 271.82,934.39 C275.21,928.62 278.61,924.15 282.01,915.64 C285.41,907.13 288.81,895.84 292.21,883.31 C295.61,870.78 299.01,848.46 302.40,840.45 C304.64,835.18 311.68,829.62 312.60,835.27 C316.00,856.19 321.10,944.21 322.80,966.00" fill="none" stroke="#000000" stroke-width="2.1" stroke-linejoin="round"/>
<path d="M57.70,952.82L61.30,959.92L54.10,959.92Z" fill="#000000"/><path d="M57.70,956.32L58.67,958.24L56.73,958.24Z" fill="#fff"/>
<path d="M67.90,952.82L71.50,959.92L64.30,959.92Z" fill="#000000"/><path d="M67.90,956.32L68.87,958.24L66.92,958.24Z" fill="#fff"/>
<path d="M78.09,953.17L81.69,960.27L74.49,960.27Z" fill="#000000"/><path d="M78.09,956.68L79.06,958.59L77.12,958.59Z" fill="#fff"/>
<path d="M88.29,953.71L91.89,960.81L84.69,960.81Z" fill="#000000"/><path d="M88.29,957.21L89.26,959.13L87.32,959.13Z" fill="#fff"/>
<path d="M98.48,954.25L102.08,961.35L94.88,961.35Z" fill="#000000"/><path d="M98.48,957.75L99.46,959.67L97.51,959.67Z" fill="#fff"/>
<path d="M108.68,955.50L112.28,962.60L105.08,962.60Z" fill="#000000"/><path d="M108.68,959.00L109.65,960.92L107.71,960.92Z" fill="#fff"/>
<path d="M118.88,956.57L122.48,963.67L115.28,963.67Z" fill="#000000"/><path d="M118.88,960.07L119.85,961.99L117.90,961.99Z" fill="#fff"/>
<path d="M129.07,957.64L132.67,964.74L125.47,964.74Z" fill="#000000"/><path d="M129.07,961.14L130.04,963.06L128.10,963.06Z" fill="#fff"/>
<path d="M139.27,958.89L142.87,965.99L135.67,965.99Z" fill="#000000"/><path d="M139.27,962.39L140.24,964.31L138.30,964.31Z" fill="#fff"/>
<path d="M149.46,960.14L153.06,967.24L145.86,967.24Z" fill="#000000"/><path d="M149.46,963.64L150.44,965.56L148.49,965.56Z" fill="#fff"/>
<path d="M159.66,961.75L163.26,968.85L156.06,968.85Z" fill="#000000"/><path d="M159.66,965.25L160.63,967.17L158.69,967.17Z" fill="#fff"/>
<path d="M169.86,963.35L173.46,970.45L166.26,970.45Z" fill="#000000"/><path d="M169.86,966.86L170.83,968.78L168.88,968.78Z" fill="#fff"/>
<path d="M180.05,963.89L183.65,970.99L176.45,970.99Z" fill="#000000"/><path d="M180.05,967.39L181.02,969.31L179.08,969.31Z" fill="#fff"/>
<path d="M190.25,964.25L193.85,971.35L186.65,971.35Z" fill="#000000"/><path d="M190.25,967.75L191.22,969.67L189.28,969.67Z" fill="#fff"/>
<path d="M200.44,964.25L204.04,971.35L196.84,971.35Z" fill="#000000"/><path d="M200.44,967.75L201.42,969.67L199.47,969.67Z" fill="#fff"/>
<path d="M210.64,963.89L214.24,970.99L207.04,970.99Z" fill="#000000"/><path d="M210.64,967.39L211.61,969.31L209.67,969.31Z" fill="#fff"/>
<path d="M220.84,963.00L224.44,970.10L217.24,970.10Z" fill="#000000"/><path d="M220.84,966.50L221.81,968.42L219.86,968.42Z" fill="#fff"/>
<path d="M231.03,961.21L234.63,968.31L227.43,968.31Z" fill="#000000"/><path d="M231.03,964.71L232.00,966.63L230.06,966.63Z" fill="#fff"/>
<path d="M241.23,958.17L244.83,965.27L237.63,965.27Z" fill="#000000"/><path d="M241.23,961.68L242.20,963.60L240.26,963.60Z" fill="#fff"/>
<path d="M251.42,953.89L255.02,960.99L247.82,960.99Z" fill="#000000"/><path d="M251.42,957.39L252.40,959.31L250.45,959.31Z" fill="#fff"/>
<path d="M261.62,946.39L265.22,953.49L258.02,953.49Z" fill="#000000"/><path d="M261.62,949.89L262.59,951.81L260.65,951.81Z" fill="#fff"/>
<path d="M271.82,930.49L275.42,937.59L268.22,937.59Z" fill="#000000"/><path d="M271.82,934.00L272.79,935.91L270.84,935.91Z" fill="#fff"/>
<path d="M282.01,911.74L285.61,918.84L278.41,918.84Z" fill="#000000"/><path d="M282.01,915.24L282.98,917.16L281.04,917.16Z" fill="#fff"/>
<path d="M292.21,879.41L295.81,886.51L288.61,886.51Z" fill="#000000"/><path d="M292.21,882.92L293.18,884.83L291.24,884.83Z" fill="#fff"/>
<path d="M302.40,836.55L306.00,843.65L298.80,843.65Z" fill="#000000"/><path d="M302.40,840.05L303.38,841.97L301.43,841.97Z" fill="#fff"/>
<path d="M312.60,831.37L316.20,838.47L309.00,838.47Z" fill="#000000"/><path d="M312.60,834.87L313.57,836.79L311.63,836.79Z" fill="#fff"/>
<path d="M322.80,962.10L326.40,969.20L319.20,969.20Z" fill="#000000"/><path d="M322.80,965.61L323.77,967.52L321.82,967.52Z" fill="#fff"/>
<path d="M57.70,961.18 C59.40,961.27 64.50,961.63 67.90,961.72 C71.29,961.81 74.69,961.66 78.09,961.72 C81.49,961.78 84.89,961.96 88.29,962.07 C91.69,962.19 95.09,962.22 98.48,962.43 C101.88,962.64 105.28,963.06 108.68,963.32 C112.08,963.59 115.48,963.74 118.88,964.04 C122.27,964.34 125.67,964.84 129.07,965.11 C132.47,965.38 135.87,965.29 139.27,965.65 C142.67,966.00 146.07,966.87 149.46,967.25 C152.86,967.64 156.26,967.73 159.66,967.97 C163.06,968.21 166.46,968.42 169.86,968.68 C173.25,968.95 176.65,969.43 180.05,969.58 C183.45,969.72 186.85,969.58 190.25,969.58 C193.65,969.58 197.05,969.64 200.44,969.58 C203.84,969.52 207.24,969.67 210.64,969.22 C214.04,968.77 217.44,967.64 220.84,966.90 C224.23,966.15 227.63,965.71 231.03,964.75 C234.43,963.80 237.83,962.70 241.23,961.18 C244.63,959.66 248.03,958.03 251.42,955.65 C254.82,953.26 258.22,950.97 261.62,946.89 C265.02,942.82 268.42,937.43 271.82,931.18 C275.21,924.93 278.61,918.47 282.01,909.39 C285.41,900.31 288.81,888.88 292.21,876.70 C295.61,864.53 299.01,844.26 302.40,836.34 C304.86,830.62 311.88,823.01 312.60,829.20 C316.00,858.55 321.10,981.90 322.80,1012.44" fill="none" stroke="#00B050" stroke-width="2.1" stroke-linejoin="round"/>
<path d="M57.70,957.28L61.10,961.18L57.70,965.08L54.30,961.18Z" fill="#00B050"/><path d="M57.70,960.18L58.55,961.18L57.70,962.18L56.85,961.18Z" fill="#fff"/>
<path d="M67.90,957.82L71.30,961.72L67.90,965.62L64.50,961.72Z" fill="#00B050"/><path d="M67.90,960.72L68.75,961.72L67.90,962.72L67.05,961.72Z" fill="#fff"/>
<path d="M78.09,957.82L81.49,961.72L78.09,965.62L74.69,961.72Z" fill="#00B050"/><path d="M78.09,960.72L78.94,961.72L78.09,962.72L77.24,961.72Z" fill="#fff"/>
<path d="M88.29,958.17L91.69,962.07L88.29,965.97L84.89,962.07Z" fill="#00B050"/><path d="M88.29,961.07L89.14,962.07L88.29,963.07L87.44,962.07Z" fill="#fff"/>
<path d="M98.48,958.53L101.88,962.43L98.48,966.33L95.08,962.43Z" fill="#00B050"/><path d="M98.48,961.43L99.33,962.43L98.48,963.43L97.63,962.43Z" fill="#fff"/>
<path d="M108.68,959.42L112.08,963.32L108.68,967.22L105.28,963.32Z" fill="#00B050"/><path d="M108.68,962.32L109.53,963.32L108.68,964.32L107.83,963.32Z" fill="#fff"/>
<path d="M118.88,960.14L122.28,964.04L118.88,967.94L115.48,964.04Z" fill="#00B050"/><path d="M118.88,963.04L119.73,964.04L118.88,965.04L118.03,964.04Z" fill="#fff"/>
<path d="M129.07,961.21L132.47,965.11L129.07,969.01L125.67,965.11Z" fill="#00B050"/><path d="M129.07,964.11L129.92,965.11L129.07,966.11L128.22,965.11Z" fill="#fff"/>
<path d="M139.27,961.75L142.67,965.65L139.27,969.55L135.87,965.65Z" fill="#00B050"/><path d="M139.27,964.65L140.12,965.65L139.27,966.65L138.42,965.65Z" fill="#fff"/>
<path d="M149.46,963.35L152.86,967.25L149.46,971.15L146.06,967.25Z" fill="#00B050"/><path d="M149.46,966.25L150.31,967.25L149.46,968.25L148.61,967.25Z" fill="#fff"/>
<path d="M159.66,964.07L163.06,967.97L159.66,971.87L156.26,967.97Z" fill="#00B050"/><path d="M159.66,966.97L160.51,967.97L159.66,968.97L158.81,967.97Z" fill="#fff"/>
<path d="M169.86,964.78L173.26,968.68L169.86,972.58L166.46,968.68Z" fill="#00B050"/><path d="M169.86,967.68L170.71,968.68L169.86,969.68L169.01,968.68Z" fill="#fff"/>
<path d="M180.05,965.68L183.45,969.58L180.05,973.48L176.65,969.58Z" fill="#00B050"/><path d="M180.05,968.58L180.90,969.58L180.05,970.58L179.20,969.58Z" fill="#fff"/>
<path d="M190.25,965.68L193.65,969.58L190.25,973.48L186.85,969.58Z" fill="#00B050"/><path d="M190.25,968.58L191.10,969.58L190.25,970.58L189.40,969.58Z" fill="#fff"/>
<path d="M200.44,965.68L203.84,969.58L200.44,973.48L197.04,969.58Z" fill="#00B050"/><path d="M200.44,968.58L201.29,969.58L200.44,970.58L199.59,969.58Z" fill="#fff"/>
<path d="M210.64,965.32L214.04,969.22L210.64,973.12L207.24,969.22Z" fill="#00B050"/><path d="M210.64,968.22L211.49,969.22L210.64,970.22L209.79,969.22Z" fill="#fff"/>
<path d="M220.84,963.00L224.24,966.90L220.84,970.80L217.44,966.90Z" fill="#00B050"/><path d="M220.84,965.90L221.69,966.90L220.84,967.90L219.99,966.90Z" fill="#fff"/>
<path d="M231.03,960.85L234.43,964.75L231.03,968.65L227.63,964.75Z" fill="#00B050"/><path d="M231.03,963.75L231.88,964.75L231.03,965.75L230.18,964.75Z" fill="#fff"/>
<path d="M241.23,957.28L244.63,961.18L241.23,965.08L237.83,961.18Z" fill="#00B050"/><path d="M241.23,960.18L242.08,961.18L241.23,962.18L240.38,961.18Z" fill="#fff"/>
<path d="M251.42,951.75L254.82,955.65L251.42,959.55L248.02,955.65Z" fill="#00B050"/><path d="M251.42,954.65L252.27,955.65L251.42,956.65L250.57,955.65Z" fill="#fff"/>
<path d="M261.62,942.99L265.02,946.89L261.62,950.79L258.22,946.89Z" fill="#00B050"/><path d="M261.62,945.89L262.47,946.89L261.62,947.89L260.77,946.89Z" fill="#fff"/>
<path d="M271.82,927.28L275.22,931.18L271.82,935.08L268.42,931.18Z" fill="#00B050"/><path d="M271.82,930.18L272.67,931.18L271.82,932.18L270.97,931.18Z" fill="#fff"/>
<path d="M282.01,905.49L285.41,909.39L282.01,913.29L278.61,909.39Z" fill="#00B050"/><path d="M282.01,908.39L282.86,909.39L282.01,910.39L281.16,909.39Z" fill="#fff"/>
<path d="M292.21,872.80L295.61,876.70L292.21,880.60L288.81,876.70Z" fill="#00B050"/><path d="M292.21,875.70L293.06,876.70L292.21,877.70L291.36,876.70Z" fill="#fff"/>
<path d="M302.40,832.44L305.80,836.34L302.40,840.24L299.00,836.34Z" fill="#00B050"/><path d="M302.40,835.34L303.25,836.34L302.40,837.34L301.55,836.34Z" fill="#fff"/>
<path d="M312.60,825.30L316.00,829.20L312.60,833.10L309.20,829.20Z" fill="#00B050"/><path d="M312.60,828.20L313.45,829.20L312.60,830.20L311.75,829.20Z" fill="#fff"/>
<path d="M322.80,1008.54L326.20,1012.44L322.80,1016.34L319.40,1012.44Z" fill="#00B050"/><path d="M322.80,1011.44L323.65,1012.44L322.80,1013.44L321.95,1012.44Z" fill="#fff"/>
<circle cx="57.70" cy="954.57" r="3.65" fill="#FF0000"/>
<circle cx="108.68" cy="957.07" r="3.65" fill="#FF0000"/>
<circle cx="139.27" cy="966.36" r="3.65" fill="#FF0000"/>
<circle cx="169.86" cy="962.79" r="3.65" fill="#FF0000"/>
<circle cx="220.84" cy="959.04" r="3.65" fill="#FF0000"/>
<circle cx="261.62" cy="945.64" r="3.65" fill="#FF0000"/>
<circle cx="271.82" cy="937.43" r="3.65" fill="#FF0000"/>
<circle cx="276.91" cy="931.36" r="3.65" fill="#FF0000"/>
<circle cx="287.11" cy="908.67" r="3.65" fill="#FF0000"/>
<circle cx="292.21" cy="884.92" r="3.65" fill="#FF0000"/>
<circle cx="297.31" cy="867.42" r="3.65" fill="#FF0000"/>
<circle cx="302.40" cy="849.91" r="3.65" fill="#FF0000"/>
<circle cx="307.50" cy="844.02" r="3.65" fill="#FF0000"/>
<circle cx="312.60" cy="841.34" r="3.65" fill="#FF0000"/>
<circle cx="317.70" cy="874.74" r="3.65" fill="#FF0000"/>
<line x1="261.62" y1="764.90" x2="261.62" y2="1030.30" stroke="#000" stroke-width="1.8" stroke-dasharray="1.7 1.75"/>
<text transform="translate(48.00,1034.60) scale(1,1.120)" font-size="11.700000000000001" text-anchor="end">0</text>
<text transform="translate(48.00,945.30) scale(1,1.120)" font-size="11.700000000000001" text-anchor="end">0.05</text>
<text transform="translate(48.00,856.00) scale(1,1.120)" font-size="11.700000000000001" text-anchor="end">0.1</text>
<text transform="translate(48.00,766.70) scale(1,1.120)" font-size="11.700000000000001" text-anchor="end">0.15</text>
<text transform="translate(57.70,1047.50) scale(1,1.120)" font-size="11.3" text-anchor="middle">0</text>
<text transform="translate(108.68,1047.50) scale(1,1.120)" font-size="11.3" text-anchor="middle">0.005</text>
<text transform="translate(159.66,1047.50) scale(1,1.120)" font-size="11.3" text-anchor="middle">0.01</text>
<text transform="translate(210.64,1047.50) scale(1,1.120)" font-size="11.3" text-anchor="middle">0.015</text>
<text transform="translate(261.62,1047.50) scale(1,1.120)" font-size="11.3" text-anchor="middle">0.02</text>
<text transform="translate(312.60,1047.50) scale(1,1.120)" font-size="11.3" text-anchor="middle">0.025</text>
<text transform="translate(0.90,734.60) scale(1,1.07)" font-size="18.5">(e)</text>
<text transform="translate(22.30,994.20) rotate(-90)" font-size="20" textLength="200.0" lengthAdjust="spacingAndGlyphs">Gas volume fraction [-]</text>
<text x="115.50" y="1071.30" font-size="20" textLength="166.2" lengthAdjust="spacingAndGlyphs">Radial position  [m]</text>
<circle cx="74.70" cy="779.20" r="3.65" fill="#FF0000"/>
<text x="83.20" y="782.80" font-size="11.7">EXP: VL10JG005TA</text>
<line x1="67.20" y1="797.20" x2="82.50" y2="797.20" stroke="#00B0F0" stroke-width="2.1"/>
<path d="M71.95,794.30L77.75,800.10M71.95,800.10L77.75,794.30M74.85,794.00L74.85,800.40" stroke="#00B0F0" stroke-width="1.6" fill="none"/>
<text x="83.20" y="800.80" font-size="11.7">Ishii-Zuber 1979</text>
<line x1="67.20" y1="815.00" x2="82.50" y2="815.00" stroke="#000000" stroke-width="2.1"/>
<path d="M74.85,811.10L78.45,818.20L71.25,818.20Z" fill="#000000"/><path d="M74.85,814.60L75.82,816.52L73.88,816.52Z" fill="#fff"/>
<text x="83.20" y="818.60" font-size="11.7">Simonnet 2007</text>
<line x1="67.20" y1="832.80" x2="82.50" y2="832.80" stroke="#00B050" stroke-width="2.1"/>
<path d="M74.85,828.90L78.25,832.80L74.85,836.70L71.45,832.80Z" fill="#00B050"/><path d="M74.85,831.80L75.70,832.80L74.85,833.80L74.00,832.80Z" fill="#fff"/>
<text x="83.20" y="836.40" font-size="11.7">Tomiyama 1998</text>
<text transform="translate(131.10,1014.20) scale(1,1.1)" font-size="11.4" textLength="58.4" lengthAdjust="spacingAndGlyphs">Core region</text>
<text transform="translate(289.20,1007.50) scale(1,1.1)" font-size="11.4" text-anchor="middle">Wall</text>
<text transform="translate(289.20,1020.60) scale(1,1.1)" font-size="11.4" text-anchor="middle">region</text></g>
<g><path d="M409.60,764.20H678.86V1031.50H409.60Z" fill="none" stroke="#1a1a1a" stroke-width="1.55"/>
<path d="M406.00,1031.50H409.60M406.00,942.40H409.60M406.00,853.30H409.60M406.00,764.20H409.60M409.60,1031.50V1035.00M461.38,1031.50V1035.00M513.16,1031.50V1035.00M564.94,1031.50V1035.00M616.72,1031.50V1035.00M668.50,1031.50V1035.00" stroke="#111" stroke-width="1.55" fill="none"/>
<path d="M409.60,957.73 C411.33,957.73 416.50,957.67 419.96,957.73 C423.41,957.78 426.86,957.96 430.31,958.08 C433.76,958.20 437.22,958.26 440.67,958.44 C444.12,958.62 447.57,958.68 451.02,959.15 C454.48,959.63 457.93,960.67 461.38,961.29 C464.83,961.91 468.28,962.18 471.74,962.89 C475.19,963.61 478.64,964.82 482.09,965.57 C485.54,966.31 489.00,966.64 492.45,967.35 C495.90,968.06 499.35,969.25 502.80,969.84 C506.26,970.44 509.71,970.62 513.16,970.91 C516.61,971.21 520.06,971.42 523.52,971.62 C526.97,971.83 530.42,972.07 533.87,972.16 C537.32,972.25 540.78,972.16 544.23,972.16 C547.68,972.16 551.13,972.25 554.58,972.16 C558.04,972.07 561.49,971.98 564.94,971.62 C568.39,971.27 571.84,970.73 575.30,970.02 C578.75,969.31 582.20,968.51 585.65,967.35 C589.10,966.19 592.56,964.91 596.01,963.07 C599.46,961.23 602.91,959.03 606.36,956.30 C609.82,953.57 613.27,950.48 616.72,946.68 C620.17,942.88 623.62,938.93 627.08,933.49 C630.53,928.05 633.98,922.59 637.43,914.07 C640.88,905.54 644.34,892.39 647.79,882.35 C651.24,872.31 654.69,859.09 658.14,853.83 C661.11,849.32 667.40,845.52 668.50,850.81 C671.95,867.32 677.13,935.90 678.86,952.91" fill="none" stroke="#7030A0" stroke-width="2.1" stroke-linejoin="round"/>
<path d="M409.60,953.83L413.20,960.93L406.00,960.93Z" fill="#7030A0"/><path d="M409.60,957.33L410.57,959.25L408.63,959.25Z" fill="#fff"/>
<path d="M419.96,953.83L423.56,960.93L416.36,960.93Z" fill="#7030A0"/><path d="M419.96,957.33L420.93,959.25L418.98,959.25Z" fill="#fff"/>
<path d="M430.31,954.18L433.91,961.28L426.71,961.28Z" fill="#7030A0"/><path d="M430.31,957.69L431.28,959.60L429.34,959.60Z" fill="#fff"/>
<path d="M440.67,954.54L444.27,961.64L437.07,961.64Z" fill="#7030A0"/><path d="M440.67,958.04L441.64,959.96L439.70,959.96Z" fill="#fff"/>
<path d="M451.02,955.25L454.62,962.35L447.42,962.35Z" fill="#7030A0"/><path d="M451.02,958.75L452.00,960.67L450.05,960.67Z" fill="#fff"/>
<path d="M461.38,957.39L464.98,964.49L457.78,964.49Z" fill="#7030A0"/><path d="M461.38,960.89L462.35,962.81L460.41,962.81Z" fill="#fff"/>
<path d="M471.74,958.99L475.34,966.09L468.14,966.09Z" fill="#7030A0"/><path d="M471.74,962.50L472.71,964.41L470.76,964.41Z" fill="#fff"/>
<path d="M482.09,961.67L485.69,968.77L478.49,968.77Z" fill="#7030A0"/><path d="M482.09,965.17L483.06,967.09L481.12,967.09Z" fill="#fff"/>
<path d="M492.45,963.45L496.05,970.55L488.85,970.55Z" fill="#7030A0"/><path d="M492.45,966.95L493.42,968.87L491.48,968.87Z" fill="#fff"/>
<path d="M502.80,965.94L506.40,973.04L499.20,973.04Z" fill="#7030A0"/><path d="M502.80,969.45L503.78,971.36L501.83,971.36Z" fill="#fff"/>
<path d="M513.16,967.01L516.76,974.11L509.56,974.11Z" fill="#7030A0"/><path d="M513.16,970.52L514.13,972.43L512.19,972.43Z" fill="#fff"/>
<path d="M523.52,967.72L527.12,974.82L519.92,974.82Z" fill="#7030A0"/><path d="M523.52,971.23L524.49,973.15L522.54,973.15Z" fill="#fff"/>
<path d="M533.87,968.26L537.47,975.36L530.27,975.36Z" fill="#7030A0"/><path d="M533.87,971.76L534.84,973.68L532.90,973.68Z" fill="#fff"/>
<path d="M544.23,968.26L547.83,975.36L540.63,975.36Z" fill="#7030A0"/><path d="M544.23,971.76L545.20,973.68L543.26,973.68Z" fill="#fff"/>
<path d="M554.58,968.26L558.18,975.36L550.98,975.36Z" fill="#7030A0"/><path d="M554.58,971.76L555.56,973.68L553.61,973.68Z" fill="#fff"/>
<path d="M564.94,967.72L568.54,974.82L561.34,974.82Z" fill="#7030A0"/><path d="M564.94,971.23L565.91,973.15L563.97,973.15Z" fill="#fff"/>
<path d="M575.30,966.12L578.90,973.22L571.70,973.22Z" fill="#7030A0"/><path d="M575.30,969.62L576.27,971.54L574.32,971.54Z" fill="#fff"/>
<path d="M585.65,963.45L589.25,970.55L582.05,970.55Z" fill="#7030A0"/><path d="M585.65,966.95L586.62,968.87L584.68,968.87Z" fill="#fff"/>
<path d="M596.01,959.17L599.61,966.27L592.41,966.27Z" fill="#7030A0"/><path d="M596.01,962.68L596.98,964.59L595.04,964.59Z" fill="#fff"/>
<path d="M606.36,952.40L609.96,959.50L602.76,959.50Z" fill="#7030A0"/><path d="M606.36,955.90L607.34,957.82L605.39,957.82Z" fill="#fff"/>
<path d="M616.72,942.78L620.32,949.88L613.12,949.88Z" fill="#7030A0"/><path d="M616.72,946.28L617.69,948.20L615.75,948.20Z" fill="#fff"/>
<path d="M627.08,929.59L630.68,936.69L623.48,936.69Z" fill="#7030A0"/><path d="M627.08,933.09L628.05,935.01L626.10,935.01Z" fill="#fff"/>
<path d="M637.43,910.17L641.03,917.27L633.83,917.27Z" fill="#7030A0"/><path d="M637.43,913.67L638.40,915.59L636.46,915.59Z" fill="#fff"/>
<path d="M647.79,878.45L651.39,885.55L644.19,885.55Z" fill="#7030A0"/><path d="M647.79,881.95L648.76,883.87L646.82,883.87Z" fill="#fff"/>
<path d="M658.14,849.93L661.74,857.03L654.54,857.03Z" fill="#7030A0"/><path d="M658.14,853.44L659.12,855.36L657.17,855.36Z" fill="#fff"/>
<path d="M668.50,846.91L672.10,854.01L664.90,854.01Z" fill="#7030A0"/><path d="M668.50,850.41L669.47,852.33L667.53,852.33Z" fill="#fff"/>
<path d="M678.86,949.01L682.46,956.11L675.26,956.11Z" fill="#7030A0"/><path d="M678.86,952.52L679.83,954.43L677.88,954.43Z" fill="#fff"/>
<path d="M409.60,959.86 C411.33,959.86 416.50,959.80 419.96,959.86 C423.41,959.92 426.86,960.07 430.31,960.22 C433.76,960.37 437.22,960.58 440.67,960.75 C444.12,960.93 447.57,960.93 451.02,961.29 C454.48,961.65 457.93,962.48 461.38,962.89 C464.83,963.31 468.28,963.49 471.74,963.78 C475.19,964.08 478.64,964.23 482.09,964.67 C485.54,965.12 489.00,966.01 492.45,966.46 C495.90,966.90 499.35,967.08 502.80,967.35 C506.26,967.62 509.71,967.91 513.16,968.06 C516.61,968.21 520.06,968.30 523.52,968.24 C526.97,968.18 530.42,967.88 533.87,967.70 C537.32,967.53 540.78,967.35 544.23,967.17 C547.68,966.99 551.13,966.96 554.58,966.64 C558.04,966.31 561.49,965.68 564.94,965.21 C568.39,964.73 571.84,964.44 575.30,963.78 C578.75,963.13 582.20,962.51 585.65,961.29 C589.10,960.07 592.56,958.62 596.01,956.48 C599.46,954.34 602.91,951.64 606.36,948.46 C609.82,945.28 613.27,942.16 616.72,937.41 C620.17,932.66 623.62,926.84 627.08,919.95 C630.53,913.06 633.98,904.68 637.43,896.07 C640.88,887.45 644.34,876.58 647.79,868.27 C651.24,859.95 654.69,844.92 658.14,846.17 C661.60,847.42 666.77,870.82 668.50,875.75" fill="none" stroke="#002060" stroke-width="2.1" stroke-linejoin="round"/>
<path d="M406.70,956.96L412.50,962.76M406.70,962.76L412.50,956.96M409.60,956.66L409.60,963.06" stroke="#002060" stroke-width="1.6" fill="none"/>
<path d="M417.06,956.96L422.86,962.76M417.06,962.76L422.86,956.96M419.96,956.66L419.96,963.06" stroke="#002060" stroke-width="1.6" fill="none"/>
<path d="M427.41,957.32L433.21,963.12M427.41,963.12L433.21,957.32M430.31,957.02L430.31,963.42" stroke="#002060" stroke-width="1.6" fill="none"/>
<path d="M437.77,957.85L443.57,963.65M437.77,963.65L443.57,957.85M440.67,957.55L440.67,963.95" stroke="#002060" stroke-width="1.6" fill="none"/>
<path d="M448.12,958.39L453.92,964.19M448.12,964.19L453.92,958.39M451.02,958.09L451.02,964.49" stroke="#002060" stroke-width="1.6" fill="none"/>
<path d="M458.48,959.99L464.28,965.79M458.48,965.79L464.28,959.99M461.38,959.69L461.38,966.09" stroke="#002060" stroke-width="1.6" fill="none"/>
<path d="M468.84,960.88L474.64,966.68M468.84,966.68L474.64,960.88M471.74,960.58L471.74,966.98" stroke="#002060" stroke-width="1.6" fill="none"/>
<path d="M479.19,961.77L484.99,967.57M479.19,967.57L484.99,961.77M482.09,961.48L482.09,967.87" stroke="#002060" stroke-width="1.6" fill="none"/>
<path d="M489.55,963.56L495.35,969.36M489.55,969.36L495.35,963.56M492.45,963.26L492.45,969.66" stroke="#002060" stroke-width="1.6" fill="none"/>
<path d="M499.90,964.45L505.70,970.25M499.90,970.25L505.70,964.45M502.80,964.15L502.80,970.55" stroke="#002060" stroke-width="1.6" fill="none"/>
<path d="M510.26,965.16L516.06,970.96M510.26,970.96L516.06,965.16M513.16,964.86L513.16,971.26" stroke="#002060" stroke-width="1.6" fill="none"/>
<path d="M520.62,965.34L526.42,971.14M520.62,971.14L526.42,965.34M523.52,965.04L523.52,971.44" stroke="#002060" stroke-width="1.6" fill="none"/>
<path d="M530.97,964.80L536.77,970.60M530.97,970.60L536.77,964.80M533.87,964.50L533.87,970.90" stroke="#002060" stroke-width="1.6" fill="none"/>
<path d="M541.33,964.27L547.13,970.07M541.33,970.07L547.13,964.27M544.23,963.97L544.23,970.37" stroke="#002060" stroke-width="1.6" fill="none"/>
<path d="M551.68,963.74L557.48,969.54M551.68,969.54L557.48,963.74M554.58,963.44L554.58,969.84" stroke="#002060" stroke-width="1.6" fill="none"/>
<path d="M562.04,962.31L567.84,968.11M562.04,968.11L567.84,962.31M564.94,962.01L564.94,968.41" stroke="#002060" stroke-width="1.6" fill="none"/>
<path d="M572.40,960.88L578.20,966.68M572.40,966.68L578.20,960.88M575.30,960.58L575.30,966.98" stroke="#002060" stroke-width="1.6" fill="none"/>
<path d="M582.75,958.39L588.55,964.19M582.75,964.19L588.55,958.39M585.65,958.09L585.65,964.49" stroke="#002060" stroke-width="1.6" fill="none"/>
<path d="M593.11,953.58L598.91,959.38M593.11,959.38L598.91,953.58M596.01,953.28L596.01,959.68" stroke="#002060" stroke-width="1.6" fill="none"/>
<path d="M603.46,945.56L609.26,951.36M603.46,951.36L609.26,945.56M606.36,945.26L606.36,951.66" stroke="#002060" stroke-width="1.6" fill="none"/>
<path d="M613.82,934.51L619.62,940.31M613.82,940.31L619.62,934.51M616.72,934.21L616.72,940.61" stroke="#002060" stroke-width="1.6" fill="none"/>
<path d="M624.18,917.05L629.98,922.85M624.18,922.85L629.98,917.05M627.08,916.75L627.08,923.15" stroke="#002060" stroke-width="1.6" fill="none"/>
<path d="M634.53,893.17L640.33,898.97M634.53,898.97L640.33,893.17M637.43,892.87L637.43,899.27" stroke="#002060" stroke-width="1.6" fill="none"/>
<path d="M644.89,865.37L650.69,871.17M644.89,871.17L650.69,865.37M647.79,865.07L647.79,871.47" stroke="#002060" stroke-width="1.6" fill="none"/>
<path d="M655.24,843.27L661.04,849.07M655.24,849.07L661.04,843.27M658.14,842.97L658.14,849.37" stroke="#002060" stroke-width="1.6" fill="none"/>
<path d="M665.60,872.85L671.40,878.65M665.60,878.65L671.40,872.85M668.50,872.55L668.50,878.95" stroke="#002060" stroke-width="1.6" fill="none"/>
<path d="M409.60,954.16 C411.33,954.16 416.50,954.04 419.96,954.16 C423.41,954.28 426.86,954.58 430.31,954.87 C433.76,955.17 437.22,955.65 440.67,955.94 C444.12,956.24 447.57,956.27 451.02,956.66 C454.48,957.04 457.93,957.81 461.38,958.26 C464.83,958.71 468.28,958.82 471.74,959.33 C475.19,959.83 478.64,960.78 482.09,961.29 C485.54,961.79 489.00,961.79 492.45,962.36 C495.90,962.92 499.35,964.14 502.80,964.67 C506.26,965.21 509.71,964.88 513.16,965.57 C516.61,966.25 520.06,968.18 523.52,968.77 C526.97,969.37 530.42,969.01 533.87,969.13 C537.32,969.25 540.78,969.40 544.23,969.49 C547.68,969.58 551.13,969.63 554.58,969.66 C558.04,969.69 561.49,969.75 564.94,969.66 C568.39,969.58 571.84,969.52 575.30,969.13 C578.75,968.74 582.20,968.00 585.65,967.35 C589.10,966.69 592.56,966.25 596.01,965.21 C599.46,964.17 602.91,963.04 606.36,961.11 C609.82,959.18 613.27,956.39 616.72,953.63 C620.17,950.86 623.62,949.02 627.08,944.54 C630.53,940.05 633.98,934.23 637.43,926.72 C640.88,919.20 644.34,910.41 647.79,899.45 C651.24,888.49 654.69,870.82 658.14,860.96 C661.60,851.10 665.05,837.17 668.50,840.29 C671.95,843.41 677.13,873.11 678.86,879.67" fill="none" stroke="#FFC000" stroke-width="2.1" stroke-linejoin="round"/>
<path d="M409.60,950.26L413.00,954.16L409.60,958.06L406.20,954.16Z" fill="#FFC000"/><path d="M409.60,953.16L410.45,954.16L409.60,955.16L408.75,954.16Z" fill="#fff"/>
<path d="M419.96,950.26L423.36,954.16L419.96,958.06L416.56,954.16Z" fill="#FFC000"/><path d="M419.96,953.16L420.81,954.16L419.96,955.16L419.11,954.16Z" fill="#fff"/>
<path d="M430.31,950.97L433.71,954.87L430.31,958.77L426.91,954.87Z" fill="#FFC000"/><path d="M430.31,953.87L431.16,954.87L430.31,955.87L429.46,954.87Z" fill="#fff"/>
<path d="M440.67,952.04L444.07,955.94L440.67,959.84L437.27,955.94Z" fill="#FFC000"/><path d="M440.67,954.94L441.52,955.94L440.67,956.94L439.82,955.94Z" fill="#fff"/>
<path d="M451.02,952.76L454.42,956.66L451.02,960.56L447.62,956.66Z" fill="#FFC000"/><path d="M451.02,955.66L451.87,956.66L451.02,957.66L450.17,956.66Z" fill="#fff"/>
<path d="M461.38,954.36L464.78,958.26L461.38,962.16L457.98,958.26Z" fill="#FFC000"/><path d="M461.38,957.26L462.23,958.26L461.38,959.26L460.53,958.26Z" fill="#fff"/>
<path d="M471.74,955.43L475.14,959.33L471.74,963.23L468.34,959.33Z" fill="#FFC000"/><path d="M471.74,958.33L472.59,959.33L471.74,960.33L470.89,959.33Z" fill="#fff"/>
<path d="M482.09,957.39L485.49,961.29L482.09,965.19L478.69,961.29Z" fill="#FFC000"/><path d="M482.09,960.29L482.94,961.29L482.09,962.29L481.24,961.29Z" fill="#fff"/>
<path d="M492.45,958.46L495.85,962.36L492.45,966.26L489.05,962.36Z" fill="#FFC000"/><path d="M492.45,961.36L493.30,962.36L492.45,963.36L491.60,962.36Z" fill="#fff"/>
<path d="M502.80,960.77L506.20,964.67L502.80,968.57L499.40,964.67Z" fill="#FFC000"/><path d="M502.80,963.67L503.65,964.67L502.80,965.67L501.95,964.67Z" fill="#fff"/>
<path d="M513.16,961.67L516.56,965.57L513.16,969.47L509.76,965.57Z" fill="#FFC000"/><path d="M513.16,964.57L514.01,965.57L513.16,966.57L512.31,965.57Z" fill="#fff"/>
<path d="M523.52,964.87L526.92,968.77L523.52,972.67L520.12,968.77Z" fill="#FFC000"/><path d="M523.52,967.77L524.37,968.77L523.52,969.77L522.67,968.77Z" fill="#fff"/>
<path d="M533.87,965.23L537.27,969.13L533.87,973.03L530.47,969.13Z" fill="#FFC000"/><path d="M533.87,968.13L534.72,969.13L533.87,970.13L533.02,969.13Z" fill="#fff"/>
<path d="M544.23,965.59L547.63,969.49L544.23,973.39L540.83,969.49Z" fill="#FFC000"/><path d="M544.23,968.49L545.08,969.49L544.23,970.49L543.38,969.49Z" fill="#fff"/>
<path d="M554.58,965.76L557.98,969.66L554.58,973.56L551.18,969.66Z" fill="#FFC000"/><path d="M554.58,968.66L555.43,969.66L554.58,970.66L553.73,969.66Z" fill="#fff"/>
<path d="M564.94,965.76L568.34,969.66L564.94,973.56L561.54,969.66Z" fill="#FFC000"/><path d="M564.94,968.66L565.79,969.66L564.94,970.66L564.09,969.66Z" fill="#fff"/>
<path d="M575.30,965.23L578.70,969.13L575.30,973.03L571.90,969.13Z" fill="#FFC000"/><path d="M575.30,968.13L576.15,969.13L575.30,970.13L574.45,969.13Z" fill="#fff"/>
<path d="M585.65,963.45L589.05,967.35L585.65,971.25L582.25,967.35Z" fill="#FFC000"/><path d="M585.65,966.35L586.50,967.35L585.65,968.35L584.80,967.35Z" fill="#fff"/>
<path d="M596.01,961.31L599.41,965.21L596.01,969.11L592.61,965.21Z" fill="#FFC000"/><path d="M596.01,964.21L596.86,965.21L596.01,966.21L595.16,965.21Z" fill="#fff"/>
<path d="M606.36,957.21L609.76,961.11L606.36,965.01L602.96,961.11Z" fill="#FFC000"/><path d="M606.36,960.11L607.21,961.11L606.36,962.11L605.51,961.11Z" fill="#fff"/>
<path d="M616.72,949.73L620.12,953.63L616.72,957.53L613.32,953.63Z" fill="#FFC000"/><path d="M616.72,952.63L617.57,953.63L616.72,954.63L615.87,953.63Z" fill="#fff"/>
<path d="M627.08,940.64L630.48,944.54L627.08,948.44L623.68,944.54Z" fill="#FFC000"/><path d="M627.08,943.54L627.93,944.54L627.08,945.54L626.23,944.54Z" fill="#fff"/>
<path d="M637.43,922.82L640.83,926.72L637.43,930.62L634.03,926.72Z" fill="#FFC000"/><path d="M637.43,925.72L638.28,926.72L637.43,927.72L636.58,926.72Z" fill="#fff"/>
<path d="M647.79,895.55L651.19,899.45L647.79,903.35L644.39,899.45Z" fill="#FFC000"/><path d="M647.79,898.45L648.64,899.45L647.79,900.45L646.94,899.45Z" fill="#fff"/>
<path d="M658.14,857.06L661.54,860.96L658.14,864.86L654.74,860.96Z" fill="#FFC000"/><path d="M658.14,859.96L658.99,860.96L658.14,861.96L657.29,860.96Z" fill="#fff"/>
<path d="M668.50,836.39L671.90,840.29L668.50,844.19L665.10,840.29Z" fill="#FFC000"/><path d="M668.50,839.29L669.35,840.29L668.50,841.29L667.65,840.29Z" fill="#fff"/>
<path d="M678.86,875.77L682.26,879.67L678.86,883.57L675.46,879.67Z" fill="#FFC000"/><path d="M678.86,878.67L679.71,879.67L678.86,880.67L678.01,879.67Z" fill="#fff"/>
<circle cx="409.60" cy="955.94" r="3.65" fill="#FF0000"/>
<circle cx="461.38" cy="958.44" r="3.65" fill="#FF0000"/>
<circle cx="492.45" cy="967.70" r="3.65" fill="#FF0000"/>
<circle cx="523.52" cy="964.14" r="3.65" fill="#FF0000"/>
<circle cx="575.30" cy="960.40" r="3.65" fill="#FF0000"/>
<circle cx="616.72" cy="947.03" r="3.65" fill="#FF0000"/>
<circle cx="627.08" cy="938.84" r="3.65" fill="#FF0000"/>
<circle cx="632.25" cy="932.78" r="3.65" fill="#FF0000"/>
<circle cx="642.61" cy="910.15" r="3.65" fill="#FF0000"/>
<circle cx="647.79" cy="886.45" r="3.65" fill="#FF0000"/>
<circle cx="652.97" cy="868.98" r="3.65" fill="#FF0000"/>
<circle cx="658.14" cy="851.52" r="3.65" fill="#FF0000"/>
<circle cx="663.32" cy="845.64" r="3.65" fill="#FF0000"/>
<circle cx="668.50" cy="842.96" r="3.65" fill="#FF0000"/>
<circle cx="673.68" cy="876.29" r="3.65" fill="#FF0000"/>
<line x1="616.72" y1="766.70" x2="616.72" y2="1031.50" stroke="#000" stroke-width="1.8" stroke-dasharray="1.7 1.75"/>
<text transform="translate(400.00,1035.80) scale(1,1.120)" font-size="11.700000000000001" text-anchor="end">0</text>
<text transform="translate(400.00,946.70) scale(1,1.120)" font-size="11.700000000000001" text-anchor="end">0.05</text>
<text transform="translate(400.00,857.60) scale(1,1.120)" font-size="11.700000000000001" text-anchor="end">0.1</text>
<text transform="translate(400.00,768.50) scale(1,1.120)" font-size="11.700000000000001" text-anchor="end">0.15</text>
<text transform="translate(409.60,1048.50) scale(1,1.120)" font-size="11.3" text-anchor="middle">0</text>
<text transform="translate(461.38,1048.50) scale(1,1.120)" font-size="11.3" text-anchor="middle">0.005</text>
<text transform="translate(513.16,1048.50) scale(1,1.120)" font-size="11.3" text-anchor="middle">0.01</text>
<text transform="translate(564.94,1048.50) scale(1,1.120)" font-size="11.3" text-anchor="middle">0.015</text>
<text transform="translate(616.72,1048.50) scale(1,1.120)" font-size="11.3" text-anchor="middle">0.02</text>
<text transform="translate(668.50,1048.50) scale(1,1.120)" font-size="11.3" text-anchor="middle">0.025</text>
<text transform="translate(357.00,734.60) scale(1,1.07)" font-size="18.5">(f)</text>
<text transform="translate(378.40,1000.30) rotate(-90)" font-size="20" textLength="200.1" lengthAdjust="spacingAndGlyphs">Gas volume fraction [-]</text>
<text x="461.40" y="1071.00" font-size="20" textLength="165.9" lengthAdjust="spacingAndGlyphs">Radial position  [m]</text>
<circle cx="432.50" cy="779.20" r="3.65" fill="#FF0000"/>
<text x="440.80" y="782.80" font-size="11.6">EXP: VL10JG005TA</text>
<line x1="424.70" y1="795.50" x2="440.20" y2="795.50" stroke="#7030A0" stroke-width="2.1"/>
<path d="M432.45,791.60L436.05,798.70L428.85,798.70Z" fill="#7030A0"/><path d="M432.45,795.10L433.42,797.02L431.48,797.02Z" fill="#fff"/>
<text x="440.80" y="799.10" font-size="11.6">Grace 1976</text>
<line x1="424.70" y1="811.90" x2="440.20" y2="811.90" stroke="#002060" stroke-width="2.1"/>
<path d="M429.55,809.00L435.35,814.80M429.55,814.80L435.35,809.00M432.45,808.70L432.45,815.10" stroke="#002060" stroke-width="1.6" fill="none"/>
<text x="440.80" y="815.50" font-size="11.6">Schiller-Nau 1935</text>
<line x1="424.70" y1="828.20" x2="440.20" y2="828.20" stroke="#FFC000" stroke-width="2.1"/>
<path d="M432.45,824.30L435.85,828.20L432.45,832.10L429.05,828.20Z" fill="#FFC000"/><path d="M432.45,827.20L433.30,828.20L432.45,829.20L431.60,828.20Z" fill="#fff"/>
<text x="440.80" y="831.80" font-size="11.6">Behzadi 2004</text>
<text transform="translate(486.10,1015.10) scale(1,1.1)" font-size="11.4" textLength="58.4" lengthAdjust="spacingAndGlyphs">Core region</text>
<text transform="translate(644.00,1008.40) scale(1,1.1)" font-size="11.4" text-anchor="middle">Wall</text>
<text transform="translate(644.00,1021.50) scale(1,1.1)" font-size="11.4" text-anchor="middle">region</text></g>
</svg></body></html>
